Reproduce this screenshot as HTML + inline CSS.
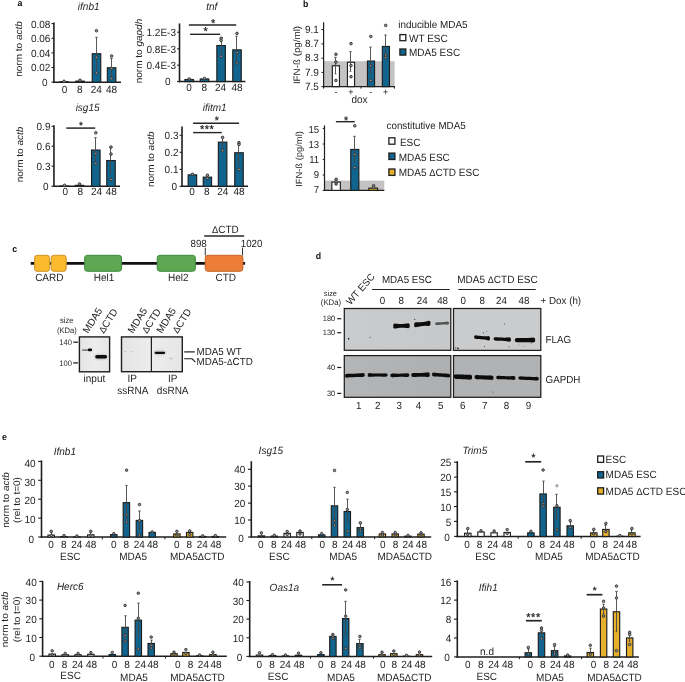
<!DOCTYPE html>
<html><head><meta charset="utf-8"><title>Figure</title>
<style>html,body{margin:0;padding:0;background:#fff}svg{display:block;text-rendering:geometricPrecision}text{font-family:"Liberation Sans",Arial,Helvetica,sans-serif}</style>
</head><body>
<svg width="685" height="682" viewBox="0 0 685 682">
<rect x="0" y="0" width="685" height="682" fill="#ffffff"/>
<text transform="translate(17.60 5.80) scale(0.955 1)" font-size="9.21" text-anchor="start" fill="#111" font-weight="bold" >a</text>
<line x1="53.90" y1="22.60" x2="53.90" y2="82.95" stroke="#1e1e1e" stroke-width="1.6" stroke-linecap="butt"/>
<line x1="53.10" y1="82.20" x2="121.00" y2="82.20" stroke="#1e1e1e" stroke-width="1.5" stroke-linecap="butt"/>
<line x1="51.50" y1="23.60" x2="53.90" y2="23.60" stroke="#1e1e1e" stroke-width="1.1" stroke-linecap="butt"/>
<text transform="translate(50.40 27.50) scale(0.955 1)" font-size="10.47" text-anchor="end" fill="#1e1e1e" >0.08</text>
<line x1="51.50" y1="38.30" x2="53.90" y2="38.30" stroke="#1e1e1e" stroke-width="1.1" stroke-linecap="butt"/>
<text transform="translate(50.40 42.20) scale(0.955 1)" font-size="10.47" text-anchor="end" fill="#1e1e1e" >0.06</text>
<line x1="51.50" y1="52.90" x2="53.90" y2="52.90" stroke="#1e1e1e" stroke-width="1.1" stroke-linecap="butt"/>
<text transform="translate(50.40 56.80) scale(0.955 1)" font-size="10.47" text-anchor="end" fill="#1e1e1e" >0.04</text>
<line x1="51.50" y1="67.50" x2="53.90" y2="67.50" stroke="#1e1e1e" stroke-width="1.1" stroke-linecap="butt"/>
<text transform="translate(50.40 71.40) scale(0.955 1)" font-size="10.47" text-anchor="end" fill="#1e1e1e" >0.02</text>
<line x1="51.50" y1="82.10" x2="53.90" y2="82.10" stroke="#1e1e1e" stroke-width="1.1" stroke-linecap="butt"/>
<text transform="translate(47.60 86.00) scale(0.955 1)" font-size="10.47" text-anchor="end" fill="#1e1e1e" >0</text>
<text transform="translate(88.70 9.50) scale(0.955 1)" font-size="10.47" text-anchor="middle" fill="#1e1e1e" font-style="italic" >ifnb1</text>
<text transform="translate(64.60 92.80) scale(0.955 1)" font-size="10.47" text-anchor="middle" fill="#1e1e1e" >0</text>
<text transform="translate(79.80 92.80) scale(0.955 1)" font-size="10.47" text-anchor="middle" fill="#1e1e1e" >8</text>
<text transform="translate(96.20 92.80) scale(0.955 1)" font-size="10.47" text-anchor="middle" fill="#1e1e1e" >24</text>
<text transform="translate(111.60 92.80) scale(0.955 1)" font-size="10.47" text-anchor="middle" fill="#1e1e1e" >48</text>
<text transform="translate(22.00 49.00) rotate(-90) scale(1 0.955)" font-size="10.00" text-anchor="middle" fill="#1e1e1e" >norm to <tspan font-style="italic">actb</tspan></text>
<rect x="59.75" y="81.75" width="8.50" height="0.55" fill="#10648e" stroke="#1e1e1e" stroke-width="1.15" rx="0" />
<rect x="75.75" y="81.15" width="8.50" height="1.15" fill="#10648e" stroke="#1e1e1e" stroke-width="1.15" rx="0" />
<rect x="92.25" y="53.75" width="8.50" height="28.55" fill="#10648e" stroke="#1e1e1e" stroke-width="1.15" rx="0" />
<rect x="107.35" y="67.75" width="8.50" height="14.55" fill="#10648e" stroke="#1e1e1e" stroke-width="1.15" rx="0" />
<line x1="96.50" y1="37.30" x2="96.50" y2="69.50" stroke="#454545" stroke-width="0.9" stroke-linecap="butt"/>
<line x1="95.20" y1="37.30" x2="97.80" y2="37.30" stroke="#454545" stroke-width="0.8" stroke-linecap="butt"/>
<line x1="95.46" y1="69.50" x2="97.54" y2="69.50" stroke="#454545" stroke-width="0.7" stroke-linecap="butt"/>
<line x1="111.50" y1="58.40" x2="111.50" y2="76.50" stroke="#454545" stroke-width="0.9" stroke-linecap="butt"/>
<line x1="110.20" y1="58.40" x2="112.80" y2="58.40" stroke="#454545" stroke-width="0.8" stroke-linecap="butt"/>
<line x1="110.46" y1="76.50" x2="112.54" y2="76.50" stroke="#454545" stroke-width="0.7" stroke-linecap="butt"/>
<circle cx="64.00" cy="81.30" r="1.3" fill="#999999" stroke="#2c2c2c" stroke-width="0.9"/>
<circle cx="80.00" cy="80.20" r="1.3" fill="#999999" stroke="#2c2c2c" stroke-width="0.9"/>
<circle cx="96.50" cy="30.70" r="1.3" fill="#999999" stroke="#2c2c2c" stroke-width="0.9"/>
<circle cx="96.50" cy="57.30" r="1.3" fill="#999999" stroke="#2c2c2c" stroke-width="0.9"/>
<circle cx="96.50" cy="72.90" r="1.3" fill="#999999" stroke="#2c2c2c" stroke-width="0.9"/>
<circle cx="111.60" cy="56.00" r="1.3" fill="#999999" stroke="#2c2c2c" stroke-width="0.9"/>
<circle cx="111.60" cy="68.50" r="1.3" fill="#999999" stroke="#2c2c2c" stroke-width="0.9"/>
<circle cx="111.60" cy="78.50" r="1.3" fill="#999999" stroke="#2c2c2c" stroke-width="0.9"/>
<line x1="179.50" y1="23.40" x2="179.50" y2="82.25" stroke="#1e1e1e" stroke-width="1.6" stroke-linecap="butt"/>
<line x1="178.70" y1="81.50" x2="245.40" y2="81.50" stroke="#1e1e1e" stroke-width="1.5" stroke-linecap="butt"/>
<line x1="177.10" y1="32.20" x2="179.50" y2="32.20" stroke="#1e1e1e" stroke-width="1.1" stroke-linecap="butt"/>
<text transform="translate(176.00 36.10) scale(0.955 1)" font-size="10.47" text-anchor="end" fill="#1e1e1e" >1.2E-3</text>
<line x1="177.10" y1="48.80" x2="179.50" y2="48.80" stroke="#1e1e1e" stroke-width="1.1" stroke-linecap="butt"/>
<text transform="translate(176.00 52.70) scale(0.955 1)" font-size="10.47" text-anchor="end" fill="#1e1e1e" >0.8E-3</text>
<line x1="177.10" y1="65.20" x2="179.50" y2="65.20" stroke="#1e1e1e" stroke-width="1.1" stroke-linecap="butt"/>
<text transform="translate(176.00 69.10) scale(0.955 1)" font-size="10.47" text-anchor="end" fill="#1e1e1e" >0.4E-3</text>
<line x1="177.10" y1="81.50" x2="179.50" y2="81.50" stroke="#1e1e1e" stroke-width="1.1" stroke-linecap="butt"/>
<text transform="translate(170.60 85.40) scale(0.955 1)" font-size="10.47" text-anchor="end" fill="#1e1e1e" >0</text>
<text transform="translate(211.80 9.50) scale(0.955 1)" font-size="10.47" text-anchor="middle" fill="#1e1e1e" font-style="italic" >tnf</text>
<text transform="translate(189.10 91.00) scale(0.955 1)" font-size="10.47" text-anchor="middle" fill="#1e1e1e" >0</text>
<text transform="translate(204.30 91.00) scale(0.955 1)" font-size="10.47" text-anchor="middle" fill="#1e1e1e" >8</text>
<text transform="translate(220.50 91.00) scale(0.955 1)" font-size="10.47" text-anchor="middle" fill="#1e1e1e" >24</text>
<text transform="translate(237.00 91.00) scale(0.955 1)" font-size="10.47" text-anchor="middle" fill="#1e1e1e" >48</text>
<text transform="translate(142.00 51.00) rotate(-90) scale(1 0.955)" font-size="10.00" text-anchor="middle" fill="#1e1e1e" >norm to <tspan font-style="italic">gapdh</tspan></text>
<rect x="184.95" y="79.55" width="8.50" height="2.05" fill="#10648e" stroke="#1e1e1e" stroke-width="1.15" rx="0" />
<rect x="200.25" y="78.95" width="8.50" height="2.65" fill="#10648e" stroke="#1e1e1e" stroke-width="1.15" rx="0" />
<rect x="216.85" y="45.55" width="8.50" height="36.05" fill="#10648e" stroke="#1e1e1e" stroke-width="1.15" rx="0" />
<rect x="232.75" y="49.85" width="8.50" height="31.75" fill="#10648e" stroke="#1e1e1e" stroke-width="1.15" rx="0" />
<line x1="221.50" y1="37.50" x2="221.50" y2="52.50" stroke="#454545" stroke-width="0.9" stroke-linecap="butt"/>
<line x1="220.20" y1="37.50" x2="222.80" y2="37.50" stroke="#454545" stroke-width="0.8" stroke-linecap="butt"/>
<line x1="220.46" y1="52.50" x2="222.54" y2="52.50" stroke="#454545" stroke-width="0.7" stroke-linecap="butt"/>
<line x1="236.50" y1="36.20" x2="236.50" y2="62.60" stroke="#454545" stroke-width="0.9" stroke-linecap="butt"/>
<line x1="235.20" y1="36.20" x2="237.80" y2="36.20" stroke="#454545" stroke-width="0.8" stroke-linecap="butt"/>
<line x1="235.46" y1="62.60" x2="237.54" y2="62.60" stroke="#454545" stroke-width="0.7" stroke-linecap="butt"/>
<circle cx="189.20" cy="79.00" r="1.3" fill="#999999" stroke="#2c2c2c" stroke-width="0.9"/>
<circle cx="204.50" cy="78.50" r="1.3" fill="#999999" stroke="#2c2c2c" stroke-width="0.9"/>
<circle cx="221.10" cy="38.30" r="1.3" fill="#999999" stroke="#2c2c2c" stroke-width="0.9"/>
<circle cx="221.10" cy="40.40" r="1.3" fill="#999999" stroke="#2c2c2c" stroke-width="0.9"/>
<circle cx="221.10" cy="56.30" r="1.3" fill="#999999" stroke="#2c2c2c" stroke-width="0.9"/>
<circle cx="237.00" cy="33.40" r="1.3" fill="#999999" stroke="#2c2c2c" stroke-width="0.9"/>
<circle cx="237.00" cy="52.80" r="1.3" fill="#999999" stroke="#2c2c2c" stroke-width="0.9"/>
<circle cx="237.00" cy="63.00" r="1.3" fill="#999999" stroke="#2c2c2c" stroke-width="0.9"/>
<line x1="188.90" y1="25.00" x2="236.20" y2="25.00" stroke="#262626" stroke-width="1.7" stroke-linecap="butt"/>
<text transform="translate(213.15 26.62) scale(0.955 1)" font-size="11.52" text-anchor="middle" fill="#1a1a1a" stroke="#1a1a1a" stroke-width="0.2">*</text>
<line x1="190.10" y1="34.30" x2="220.20" y2="34.30" stroke="#262626" stroke-width="1.4" stroke-linecap="butt"/>
<text transform="translate(205.75 35.02) scale(0.955 1)" font-size="11.52" text-anchor="middle" fill="#1a1a1a" stroke="#1a1a1a" stroke-width="0.2">*</text>
<line x1="53.95" y1="125.20" x2="53.95" y2="186.95" stroke="#1e1e1e" stroke-width="1.6" stroke-linecap="butt"/>
<line x1="53.15" y1="186.20" x2="120.00" y2="186.20" stroke="#1e1e1e" stroke-width="1.5" stroke-linecap="butt"/>
<line x1="51.55" y1="126.30" x2="53.95" y2="126.30" stroke="#1e1e1e" stroke-width="1.1" stroke-linecap="butt"/>
<text transform="translate(50.45 130.20) scale(0.955 1)" font-size="10.47" text-anchor="end" fill="#1e1e1e" >0.9</text>
<line x1="51.55" y1="146.20" x2="53.95" y2="146.20" stroke="#1e1e1e" stroke-width="1.1" stroke-linecap="butt"/>
<text transform="translate(50.45 150.10) scale(0.955 1)" font-size="10.47" text-anchor="end" fill="#1e1e1e" >0.6</text>
<line x1="51.55" y1="166.10" x2="53.95" y2="166.10" stroke="#1e1e1e" stroke-width="1.1" stroke-linecap="butt"/>
<text transform="translate(50.45 170.00) scale(0.955 1)" font-size="10.47" text-anchor="end" fill="#1e1e1e" >0.3</text>
<line x1="51.55" y1="186.30" x2="53.95" y2="186.30" stroke="#1e1e1e" stroke-width="1.1" stroke-linecap="butt"/>
<text transform="translate(48.45 190.20) scale(0.955 1)" font-size="10.47" text-anchor="end" fill="#1e1e1e" >0</text>
<text transform="translate(87.60 111.00) scale(0.955 1)" font-size="10.47" text-anchor="middle" fill="#1e1e1e" font-style="italic" >isg15</text>
<text transform="translate(65.30 195.40) scale(0.955 1)" font-size="10.47" text-anchor="middle" fill="#1e1e1e" >0</text>
<text transform="translate(80.40 195.40) scale(0.955 1)" font-size="10.47" text-anchor="middle" fill="#1e1e1e" >8</text>
<text transform="translate(96.60 195.40) scale(0.955 1)" font-size="10.47" text-anchor="middle" fill="#1e1e1e" >24</text>
<text transform="translate(111.30 195.40) scale(0.955 1)" font-size="10.47" text-anchor="middle" fill="#1e1e1e" >48</text>
<text transform="translate(22.80 154.50) rotate(-90) scale(1 0.955)" font-size="10.00" text-anchor="middle" fill="#1e1e1e" >norm to <tspan font-style="italic">actb</tspan></text>
<rect x="60.25" y="186.05" width="8.50" height="0.35" fill="#10648e" stroke="#1e1e1e" stroke-width="1.15" rx="0" />
<rect x="75.25" y="185.35" width="8.50" height="1.05" fill="#10648e" stroke="#1e1e1e" stroke-width="1.15" rx="0" />
<rect x="91.55" y="150.05" width="8.50" height="36.35" fill="#10648e" stroke="#1e1e1e" stroke-width="1.15" rx="0" />
<rect x="106.75" y="160.55" width="8.50" height="25.85" fill="#10648e" stroke="#1e1e1e" stroke-width="1.15" rx="0" />
<line x1="95.50" y1="137.70" x2="95.50" y2="161.30" stroke="#454545" stroke-width="0.9" stroke-linecap="butt"/>
<line x1="94.20" y1="137.70" x2="96.80" y2="137.70" stroke="#454545" stroke-width="0.8" stroke-linecap="butt"/>
<line x1="94.46" y1="161.30" x2="96.54" y2="161.30" stroke="#454545" stroke-width="0.7" stroke-linecap="butt"/>
<line x1="110.50" y1="147.70" x2="110.50" y2="173.40" stroke="#454545" stroke-width="0.9" stroke-linecap="butt"/>
<line x1="109.20" y1="147.70" x2="111.80" y2="147.70" stroke="#454545" stroke-width="0.8" stroke-linecap="butt"/>
<line x1="109.46" y1="173.40" x2="111.54" y2="173.40" stroke="#454545" stroke-width="0.7" stroke-linecap="butt"/>
<circle cx="64.50" cy="185.30" r="1.3" fill="#999999" stroke="#2c2c2c" stroke-width="0.9"/>
<circle cx="79.50" cy="184.00" r="1.3" fill="#999999" stroke="#2c2c2c" stroke-width="0.9"/>
<circle cx="95.80" cy="132.80" r="1.3" fill="#999999" stroke="#2c2c2c" stroke-width="0.9"/>
<circle cx="95.80" cy="153.60" r="1.3" fill="#999999" stroke="#2c2c2c" stroke-width="0.9"/>
<circle cx="95.80" cy="163.50" r="1.3" fill="#999999" stroke="#2c2c2c" stroke-width="0.9"/>
<circle cx="111.00" cy="147.10" r="1.3" fill="#999999" stroke="#2c2c2c" stroke-width="0.9"/>
<circle cx="111.00" cy="154.10" r="1.3" fill="#999999" stroke="#2c2c2c" stroke-width="0.9"/>
<circle cx="111.00" cy="179.50" r="1.3" fill="#999999" stroke="#2c2c2c" stroke-width="0.9"/>
<line x1="66.30" y1="128.10" x2="95.20" y2="128.10" stroke="#262626" stroke-width="1.5" stroke-linecap="butt"/>
<text transform="translate(81.05 129.00) scale(0.955 1)" font-size="10.47" text-anchor="middle" fill="#1a1a1a" stroke="#1a1a1a" stroke-width="0.2">*</text>
<line x1="182.00" y1="126.40" x2="182.00" y2="186.95" stroke="#1e1e1e" stroke-width="1.6" stroke-linecap="butt"/>
<line x1="181.20" y1="186.20" x2="248.00" y2="186.20" stroke="#1e1e1e" stroke-width="1.5" stroke-linecap="butt"/>
<line x1="179.60" y1="135.30" x2="182.00" y2="135.30" stroke="#1e1e1e" stroke-width="1.1" stroke-linecap="butt"/>
<text transform="translate(178.50 139.20) scale(0.955 1)" font-size="10.47" text-anchor="end" fill="#1e1e1e" >0.3</text>
<line x1="179.60" y1="152.30" x2="182.00" y2="152.30" stroke="#1e1e1e" stroke-width="1.1" stroke-linecap="butt"/>
<text transform="translate(178.50 156.20) scale(0.955 1)" font-size="10.47" text-anchor="end" fill="#1e1e1e" >0.2</text>
<line x1="179.60" y1="169.40" x2="182.00" y2="169.40" stroke="#1e1e1e" stroke-width="1.1" stroke-linecap="butt"/>
<text transform="translate(178.50 173.30) scale(0.955 1)" font-size="10.47" text-anchor="end" fill="#1e1e1e" >0.1</text>
<line x1="179.60" y1="186.40" x2="182.00" y2="186.40" stroke="#1e1e1e" stroke-width="1.1" stroke-linecap="butt"/>
<text transform="translate(177.00 190.30) scale(0.955 1)" font-size="10.47" text-anchor="end" fill="#1e1e1e" >0</text>
<text transform="translate(214.60 111.00) scale(0.955 1)" font-size="10.47" text-anchor="middle" fill="#1e1e1e" font-style="italic" >ifitm1</text>
<text transform="translate(192.10 195.40) scale(0.955 1)" font-size="10.47" text-anchor="middle" fill="#1e1e1e" >0</text>
<text transform="translate(206.80 195.40) scale(0.955 1)" font-size="10.47" text-anchor="middle" fill="#1e1e1e" >8</text>
<text transform="translate(222.80 195.40) scale(0.955 1)" font-size="10.47" text-anchor="middle" fill="#1e1e1e" >24</text>
<text transform="translate(239.00 195.40) scale(0.955 1)" font-size="10.47" text-anchor="middle" fill="#1e1e1e" >48</text>
<text transform="translate(154.00 159.30) rotate(-90) scale(1 0.955)" font-size="10.00" text-anchor="middle" fill="#1e1e1e" >norm to <tspan font-style="italic">actb</tspan></text>
<rect x="188.15" y="174.85" width="8.50" height="11.55" fill="#10648e" stroke="#1e1e1e" stroke-width="1.15" rx="0" />
<rect x="203.25" y="177.15" width="8.30" height="9.25" fill="#10648e" stroke="#1e1e1e" stroke-width="1.15" rx="0" />
<rect x="218.35" y="142.15" width="8.50" height="44.25" fill="#10648e" stroke="#1e1e1e" stroke-width="1.15" rx="0" />
<rect x="234.75" y="152.75" width="8.50" height="33.65" fill="#10648e" stroke="#1e1e1e" stroke-width="1.15" rx="0" />
<line x1="222.50" y1="137.40" x2="222.50" y2="147.90" stroke="#454545" stroke-width="0.9" stroke-linecap="butt"/>
<line x1="221.20" y1="137.40" x2="223.80" y2="137.40" stroke="#454545" stroke-width="0.8" stroke-linecap="butt"/>
<line x1="221.46" y1="147.90" x2="223.54" y2="147.90" stroke="#454545" stroke-width="0.7" stroke-linecap="butt"/>
<line x1="238.50" y1="143.20" x2="238.50" y2="163.50" stroke="#454545" stroke-width="0.9" stroke-linecap="butt"/>
<line x1="237.20" y1="143.20" x2="239.80" y2="143.20" stroke="#454545" stroke-width="0.8" stroke-linecap="butt"/>
<line x1="237.46" y1="163.50" x2="239.54" y2="163.50" stroke="#454545" stroke-width="0.7" stroke-linecap="butt"/>
<line x1="192.50" y1="173.60" x2="192.50" y2="175.80" stroke="#454545" stroke-width="0.9" stroke-linecap="butt"/>
<line x1="191.20" y1="173.60" x2="193.80" y2="173.60" stroke="#454545" stroke-width="0.8" stroke-linecap="butt"/>
<line x1="191.46" y1="175.80" x2="193.54" y2="175.80" stroke="#454545" stroke-width="0.7" stroke-linecap="butt"/>
<line x1="207.50" y1="175.40" x2="207.50" y2="178.80" stroke="#454545" stroke-width="0.9" stroke-linecap="butt"/>
<line x1="206.20" y1="175.40" x2="208.80" y2="175.40" stroke="#454545" stroke-width="0.8" stroke-linecap="butt"/>
<line x1="206.46" y1="178.80" x2="208.54" y2="178.80" stroke="#454545" stroke-width="0.7" stroke-linecap="butt"/>
<circle cx="192.40" cy="174.30" r="1.3" fill="#999999" stroke="#2c2c2c" stroke-width="0.9"/>
<circle cx="207.40" cy="175.20" r="1.3" fill="#999999" stroke="#2c2c2c" stroke-width="0.9"/>
<circle cx="207.40" cy="178.30" r="1.3" fill="#999999" stroke="#2c2c2c" stroke-width="0.9"/>
<circle cx="222.60" cy="137.40" r="1.3" fill="#999999" stroke="#2c2c2c" stroke-width="0.9"/>
<circle cx="222.60" cy="150.70" r="1.3" fill="#999999" stroke="#2c2c2c" stroke-width="0.9"/>
<circle cx="239.00" cy="142.70" r="1.3" fill="#999999" stroke="#2c2c2c" stroke-width="0.9"/>
<circle cx="239.00" cy="144.40" r="1.3" fill="#999999" stroke="#2c2c2c" stroke-width="0.9"/>
<circle cx="239.00" cy="169.40" r="1.3" fill="#999999" stroke="#2c2c2c" stroke-width="0.9"/>
<line x1="193.10" y1="123.20" x2="239.10" y2="123.20" stroke="#262626" stroke-width="1.4" stroke-linecap="butt"/>
<text transform="translate(216.70 123.96) scale(0.955 1)" font-size="10.99" text-anchor="middle" fill="#1a1a1a" stroke="#1a1a1a" stroke-width="0.2">*</text>
<line x1="193.10" y1="132.60" x2="221.80" y2="132.60" stroke="#262626" stroke-width="1.4" stroke-linecap="butt"/>
<text transform="translate(207.05 133.42) scale(0.955 1)" font-size="11.52" text-anchor="middle" fill="#1a1a1a" stroke="#1a1a1a" stroke-width="0.2" letter-spacing="0.5">***</text>
<text transform="translate(302.90 6.70) scale(0.955 1)" font-size="9.21" text-anchor="start" fill="#111" font-weight="bold" >b</text>
<rect x="323.60" y="61.20" width="71.00" height="25.40" fill="#c4c2c3" stroke="none" stroke-width="0" rx="0" />
<line x1="323.60" y1="22.30" x2="323.60" y2="87.20" stroke="#1e1e1e" stroke-width="1.2" stroke-linecap="butt"/>
<line x1="323.00" y1="86.60" x2="394.90" y2="86.60" stroke="#1e1e1e" stroke-width="1.2" stroke-linecap="butt"/>
<line x1="323.60" y1="86.60" x2="323.60" y2="88.60" stroke="#1e1e1e" stroke-width="1.0" stroke-linecap="butt"/>
<line x1="361.00" y1="86.60" x2="361.00" y2="88.60" stroke="#1e1e1e" stroke-width="1.0" stroke-linecap="butt"/>
<line x1="394.40" y1="86.60" x2="394.40" y2="88.60" stroke="#1e1e1e" stroke-width="1.0" stroke-linecap="butt"/>
<line x1="321.40" y1="29.60" x2="323.60" y2="29.60" stroke="#1e1e1e" stroke-width="1.0" stroke-linecap="butt"/>
<text transform="translate(318.80 32.70) scale(0.955 1)" font-size="10.47" text-anchor="end" fill="#1e1e1e" >9.1</text>
<line x1="321.40" y1="43.90" x2="323.60" y2="43.90" stroke="#1e1e1e" stroke-width="1.0" stroke-linecap="butt"/>
<text transform="translate(318.80 47.00) scale(0.955 1)" font-size="10.47" text-anchor="end" fill="#1e1e1e" >8.7</text>
<line x1="321.40" y1="58.20" x2="323.60" y2="58.20" stroke="#1e1e1e" stroke-width="1.0" stroke-linecap="butt"/>
<text transform="translate(318.80 61.30) scale(0.955 1)" font-size="10.47" text-anchor="end" fill="#1e1e1e" >8.3</text>
<line x1="321.40" y1="72.40" x2="323.60" y2="72.40" stroke="#1e1e1e" stroke-width="1.0" stroke-linecap="butt"/>
<text transform="translate(318.80 75.50) scale(0.955 1)" font-size="10.47" text-anchor="end" fill="#1e1e1e" >7.9</text>
<line x1="321.40" y1="86.60" x2="323.60" y2="86.60" stroke="#1e1e1e" stroke-width="1.0" stroke-linecap="butt"/>
<text transform="translate(318.80 89.70) scale(0.955 1)" font-size="10.47" text-anchor="end" fill="#1e1e1e" >7.5</text>
<rect x="332.35" y="65.75" width="7.10" height="20.85" fill="#ffffff" stroke="#1e1e1e" stroke-width="1.15" rx="0" />
<rect x="347.45" y="62.25" width="7.10" height="24.35" fill="#ffffff" stroke="#1e1e1e" stroke-width="1.15" rx="0" />
<rect x="367.45" y="61.05" width="7.10" height="25.55" fill="#10648e" stroke="#1e1e1e" stroke-width="1.15" rx="0" />
<rect x="382.35" y="46.45" width="7.10" height="40.15" fill="#10648e" stroke="#1e1e1e" stroke-width="1.15" rx="0" />
<line x1="335.50" y1="57.30" x2="335.50" y2="73.90" stroke="#454545" stroke-width="0.9" stroke-linecap="butt"/>
<line x1="334.20" y1="57.30" x2="336.80" y2="57.30" stroke="#454545" stroke-width="0.8" stroke-linecap="butt"/>
<line x1="334.46" y1="73.90" x2="336.54" y2="73.90" stroke="#454545" stroke-width="0.7" stroke-linecap="butt"/>
<line x1="350.50" y1="51.70" x2="350.50" y2="71.30" stroke="#454545" stroke-width="0.9" stroke-linecap="butt"/>
<line x1="349.20" y1="51.70" x2="351.80" y2="51.70" stroke="#454545" stroke-width="0.8" stroke-linecap="butt"/>
<line x1="349.46" y1="71.30" x2="351.54" y2="71.30" stroke="#454545" stroke-width="0.7" stroke-linecap="butt"/>
<line x1="370.50" y1="47.10" x2="370.50" y2="73.90" stroke="#454545" stroke-width="0.9" stroke-linecap="butt"/>
<line x1="369.20" y1="47.10" x2="371.80" y2="47.10" stroke="#454545" stroke-width="0.8" stroke-linecap="butt"/>
<line x1="369.46" y1="73.90" x2="371.54" y2="73.90" stroke="#454545" stroke-width="0.7" stroke-linecap="butt"/>
<line x1="385.50" y1="35.00" x2="385.50" y2="56.40" stroke="#454545" stroke-width="0.9" stroke-linecap="butt"/>
<line x1="384.20" y1="35.00" x2="386.80" y2="35.00" stroke="#454545" stroke-width="0.8" stroke-linecap="butt"/>
<line x1="384.46" y1="56.40" x2="386.54" y2="56.40" stroke="#454545" stroke-width="0.7" stroke-linecap="butt"/>
<circle cx="335.90" cy="54.30" r="1.3" fill="#999999" stroke="#2c2c2c" stroke-width="0.9"/>
<circle cx="335.90" cy="62.00" r="1.3" fill="#999999" stroke="#2c2c2c" stroke-width="0.9"/>
<circle cx="335.90" cy="80.40" r="1.3" fill="#999999" stroke="#2c2c2c" stroke-width="0.9"/>
<circle cx="351.00" cy="43.60" r="1.3" fill="#999999" stroke="#2c2c2c" stroke-width="0.9"/>
<circle cx="351.00" cy="65.50" r="1.3" fill="#999999" stroke="#2c2c2c" stroke-width="0.9"/>
<circle cx="351.00" cy="76.70" r="1.3" fill="#999999" stroke="#2c2c2c" stroke-width="0.9"/>
<circle cx="370.80" cy="36.50" r="1.3" fill="#999999" stroke="#2c2c2c" stroke-width="0.9"/>
<circle cx="370.80" cy="65.70" r="1.3" fill="#999999" stroke="#2c2c2c" stroke-width="0.9"/>
<circle cx="370.80" cy="80.40" r="1.3" fill="#999999" stroke="#2c2c2c" stroke-width="0.9"/>
<circle cx="385.70" cy="25.40" r="1.3" fill="#999999" stroke="#2c2c2c" stroke-width="0.9"/>
<circle cx="385.70" cy="55.00" r="1.3" fill="#999999" stroke="#2c2c2c" stroke-width="0.9"/>
<circle cx="385.70" cy="57.70" r="1.3" fill="#999999" stroke="#2c2c2c" stroke-width="0.9"/>
<text transform="translate(335.90 94.60) scale(0.955 1)" font-size="9.42" text-anchor="middle" fill="#1e1e1e" >-</text>
<text transform="translate(351.00 94.60) scale(0.955 1)" font-size="9.42" text-anchor="middle" fill="#1e1e1e" >+</text>
<text transform="translate(370.80 94.60) scale(0.955 1)" font-size="9.42" text-anchor="middle" fill="#1e1e1e" >-</text>
<text transform="translate(385.70 94.60) scale(0.955 1)" font-size="9.42" text-anchor="middle" fill="#1e1e1e" >+</text>
<text transform="translate(359.50 103.30) scale(0.955 1)" font-size="10.47" text-anchor="middle" fill="#1e1e1e" >dox</text>
<text transform="translate(299.60 55.00) rotate(-90) scale(1 0.955)" font-size="9.80" text-anchor="middle" fill="#1e1e1e" >IFN-ß (pg/ml)</text>
<text transform="translate(398.20 27.60) scale(0.955 1)" font-size="10.37" text-anchor="start" fill="#1e1e1e" >inducible MDA5</text>
<rect x="399.90" y="34.60" width="5.90" height="6.10" fill="#ffffff" stroke="#1e1e1e" stroke-width="1.3" rx="0" />
<text transform="translate(409.00 41.80) scale(0.955 1)" font-size="10.47" text-anchor="start" fill="#1e1e1e" >WT ESC</text>
<rect x="399.90" y="49.00" width="5.90" height="6.10" fill="#10648e" stroke="#1e1e1e" stroke-width="1.3" rx="0" />
<text transform="translate(409.00 56.20) scale(0.955 1)" font-size="10.47" text-anchor="start" fill="#1e1e1e" >MDA5 ESC</text>
<rect x="324.50" y="180.60" width="59.80" height="9.80" fill="#c4c2c3" stroke="none" stroke-width="0" rx="0" />
<line x1="324.50" y1="125.40" x2="324.50" y2="191.00" stroke="#1e1e1e" stroke-width="1.2" stroke-linecap="butt"/>
<line x1="323.90" y1="190.40" x2="384.30" y2="190.40" stroke="#1e1e1e" stroke-width="1.2" stroke-linecap="butt"/>
<line x1="322.70" y1="128.40" x2="324.50" y2="128.40" stroke="#1e1e1e" stroke-width="1.0" stroke-linecap="butt"/>
<text transform="translate(319.20 132.55) scale(0.955 1)" font-size="10.05" text-anchor="end" fill="#1e1e1e" >15</text>
<line x1="322.70" y1="144.00" x2="324.50" y2="144.00" stroke="#1e1e1e" stroke-width="1.0" stroke-linecap="butt"/>
<text transform="translate(319.20 147.65) scale(0.955 1)" font-size="10.05" text-anchor="end" fill="#1e1e1e" >13</text>
<line x1="322.70" y1="159.40" x2="324.50" y2="159.40" stroke="#1e1e1e" stroke-width="1.0" stroke-linecap="butt"/>
<text transform="translate(319.20 162.65) scale(0.955 1)" font-size="10.05" text-anchor="end" fill="#1e1e1e" >11</text>
<line x1="322.70" y1="175.00" x2="324.50" y2="175.00" stroke="#1e1e1e" stroke-width="1.0" stroke-linecap="butt"/>
<text transform="translate(319.20 177.75) scale(0.955 1)" font-size="10.05" text-anchor="end" fill="#1e1e1e" >9</text>
<line x1="322.70" y1="190.40" x2="324.50" y2="190.40" stroke="#1e1e1e" stroke-width="1.0" stroke-linecap="butt"/>
<text transform="translate(319.20 192.75) scale(0.955 1)" font-size="10.05" text-anchor="end" fill="#1e1e1e" >7</text>
<rect x="331.85" y="182.05" width="8.50" height="8.35" fill="#ffffff" stroke="#1e1e1e" stroke-width="1.15" rx="0" />
<rect x="350.75" y="149.45" width="8.10" height="40.95" fill="#10648e" stroke="#1e1e1e" stroke-width="1.15" rx="0" />
<rect x="368.85" y="188.15" width="8.70" height="2.25" fill="#e6b02a" stroke="#1e1e1e" stroke-width="1.15" rx="0" />
<line x1="354.50" y1="136.30" x2="354.50" y2="162.00" stroke="#454545" stroke-width="0.9" stroke-linecap="butt"/>
<line x1="353.20" y1="136.30" x2="355.80" y2="136.30" stroke="#454545" stroke-width="0.8" stroke-linecap="butt"/>
<line x1="353.46" y1="162.00" x2="355.54" y2="162.00" stroke="#454545" stroke-width="0.7" stroke-linecap="butt"/>
<line x1="336.50" y1="179.30" x2="336.50" y2="183.50" stroke="#454545" stroke-width="0.9" stroke-linecap="butt"/>
<line x1="335.20" y1="179.30" x2="337.80" y2="179.30" stroke="#454545" stroke-width="0.8" stroke-linecap="butt"/>
<line x1="335.46" y1="183.50" x2="337.54" y2="183.50" stroke="#454545" stroke-width="0.7" stroke-linecap="butt"/>
<line x1="373.50" y1="186.20" x2="373.50" y2="188.60" stroke="#454545" stroke-width="0.9" stroke-linecap="butt"/>
<line x1="372.20" y1="186.20" x2="374.80" y2="186.20" stroke="#454545" stroke-width="0.8" stroke-linecap="butt"/>
<line x1="372.46" y1="188.60" x2="374.54" y2="188.60" stroke="#454545" stroke-width="0.7" stroke-linecap="butt"/>
<circle cx="354.80" cy="125.80" r="1.3" fill="#999999" stroke="#2c2c2c" stroke-width="0.9"/>
<circle cx="354.80" cy="154.50" r="1.3" fill="#999999" stroke="#2c2c2c" stroke-width="0.9"/>
<circle cx="354.80" cy="167.50" r="1.3" fill="#999999" stroke="#2c2c2c" stroke-width="0.9"/>
<circle cx="336.10" cy="179.30" r="1.3" fill="#999999" stroke="#2c2c2c" stroke-width="0.9"/>
<circle cx="336.10" cy="181.50" r="1.3" fill="#999999" stroke="#2c2c2c" stroke-width="0.9"/>
<circle cx="336.10" cy="184.00" r="1.3" fill="#999999" stroke="#2c2c2c" stroke-width="0.9"/>
<circle cx="373.60" cy="185.70" r="1.3" fill="#999999" stroke="#2c2c2c" stroke-width="0.9"/>
<circle cx="373.60" cy="187.60" r="1.3" fill="#999999" stroke="#2c2c2c" stroke-width="0.9"/>
<line x1="335.90" y1="121.70" x2="354.80" y2="121.70" stroke="#262626" stroke-width="1.4" stroke-linecap="butt"/>
<text transform="translate(345.95 123.76) scale(0.955 1)" font-size="10.99" text-anchor="middle" fill="#1a1a1a" stroke="#1a1a1a" stroke-width="0.2">*</text>
<text transform="translate(302.00 159.00) rotate(-90) scale(1 0.955)" font-size="9.40" text-anchor="middle" fill="#1e1e1e" >IFN-ß (pg/ml)</text>
<text transform="translate(386.50 128.70) scale(0.955 1)" font-size="10.31" text-anchor="start" fill="#1e1e1e" >constitutive MDA5</text>
<rect x="388.90" y="137.80" width="6.00" height="6.40" fill="#ffffff" stroke="#1e1e1e" stroke-width="1.3" rx="0" />
<text transform="translate(399.90 145.50) scale(0.955 1)" font-size="10.47" text-anchor="start" fill="#1e1e1e" >ESC</text>
<rect x="388.90" y="153.10" width="6.00" height="6.40" fill="#10648e" stroke="#1e1e1e" stroke-width="1.3" rx="0" />
<text transform="translate(398.70 160.90) scale(0.955 1)" font-size="10.47" text-anchor="start" fill="#1e1e1e" >MDA5 ESC</text>
<rect x="388.90" y="169.00" width="6.00" height="6.40" fill="#e6b02a" stroke="#1e1e1e" stroke-width="1.3" rx="0" />
<text transform="translate(398.70 176.30) scale(0.955 1)" font-size="10.47" text-anchor="start" fill="#1e1e1e" >MDA5 <tspan font-size="9.84">Δ</tspan>CTD ESC</text>
<text transform="translate(12.30 252.00) scale(0.955 1)" font-size="9.21" text-anchor="start" fill="#111" font-weight="bold" >c</text>
<line x1="30.70" y1="263.40" x2="245.10" y2="263.40" stroke="#111" stroke-width="2.6" stroke-linecap="butt"/>
<rect x="34.60" y="255.30" width="15.00" height="16.00" fill="#fbb92d" stroke="#cf9428" stroke-width="1.0" rx="2.6" />
<rect x="51.20" y="255.30" width="15.00" height="16.00" fill="#fbb92d" stroke="#cf9428" stroke-width="1.0" rx="2.6" />
<rect x="84.60" y="255.30" width="37.00" height="16.00" fill="#5fa853" stroke="#3f8a3f" stroke-width="1.0" rx="2.8" />
<rect x="157.20" y="255.30" width="38.20" height="16.00" fill="#5fa853" stroke="#3f8a3f" stroke-width="1.0" rx="2.8" />
<rect x="205.20" y="255.30" width="37.70" height="16.00" fill="#eb7d38" stroke="#c96528" stroke-width="1.0" rx="2.8" />
<text transform="translate(49.30 280.70) scale(0.955 1)" font-size="10.47" text-anchor="middle" fill="#1e1e1e" >CARD</text>
<text transform="translate(104.00 280.70) scale(0.955 1)" font-size="10.47" text-anchor="middle" fill="#1e1e1e" >Hel1</text>
<text transform="translate(178.30 280.70) scale(0.955 1)" font-size="10.47" text-anchor="middle" fill="#1e1e1e" >Hel2</text>
<text transform="translate(225.80 280.70) scale(0.955 1)" font-size="10.47" text-anchor="middle" fill="#1e1e1e" >CTD</text>
<line x1="205.30" y1="247.80" x2="205.30" y2="255.50" stroke="#1e1e1e" stroke-width="0.9" stroke-linecap="butt"/>
<line x1="242.50" y1="247.80" x2="242.50" y2="255.50" stroke="#1e1e1e" stroke-width="0.9" stroke-linecap="butt"/>
<line x1="204.20" y1="236.00" x2="244.20" y2="236.00" stroke="#2a2a2a" stroke-width="1.5" stroke-linecap="butt"/>
<text transform="translate(225.40 232.60) scale(0.955 1)" font-size="10.47" text-anchor="middle" fill="#1e1e1e" ><tspan font-size="9.84">Δ</tspan>CTD</text>
<text transform="translate(206.80 247.30) scale(0.955 1)" font-size="10.26" text-anchor="end" fill="#1e1e1e" >898</text>
<text transform="translate(240.70 247.30) scale(0.955 1)" font-size="10.26" text-anchor="start" fill="#1e1e1e" >1020</text>
<defs><filter id="bl" x="-20%" y="-80%" width="140%" height="260%"><feGaussianBlur stdDeviation="0.7"/></filter><filter id="bl2" x="-20%" y="-80%" width="140%" height="260%"><feGaussianBlur stdDeviation="0.9"/></filter><linearGradient id="gc" x1="0" y1="0" x2="1" y2="0"><stop offset="0" stop-color="#e4e4e4"/><stop offset="0.5" stop-color="#ededed"/><stop offset="1" stop-color="#e6e6e6"/></linearGradient></defs>
<rect x="79.40" y="336.90" width="30.20" height="34.90" fill="url(#gc)" stroke="#1e1e1e" stroke-width="1.4" rx="0" />
<rect x="121.50" y="336.90" width="60.80" height="34.80" fill="url(#gc)" stroke="#1e1e1e" stroke-width="1.4" rx="0" />
<line x1="151.40" y1="336.90" x2="151.40" y2="371.70" stroke="#1e1e1e" stroke-width="1.2" stroke-linecap="butt"/>
<rect x="81.90" y="349.20" width="7.60" height="1.80" rx="0.90" fill="#333" opacity="0.55" filter="url(#bl)"/>
<rect x="87.80" y="348.60" width="4.40" height="2.60" rx="1.30" fill="#0c0c0c" opacity="1" filter="url(#bl)"/>
<rect x="94.60" y="354.20" width="12.80" height="5.20" rx="2.60" fill="#777" opacity="0.35" filter="url(#bl2)"/>
<rect x="95.20" y="355.00" width="11.90" height="3.60" rx="1.80" fill="#0c0c0c" opacity="1" filter="url(#bl)"/>
<rect x="154.00" y="350.60" width="11.60" height="4.40" rx="2.20" fill="#777" opacity="0.3" filter="url(#bl2)"/>
<rect x="154.60" y="351.65" width="10.60" height="2.30" rx="1.15" fill="#0c0c0c" opacity="1" filter="url(#bl)"/>
<rect x="124.00" y="350.90" width="2.50" height="1.20" rx="0.60" fill="#888" opacity="0.35" filter="url(#bl)"/>
<rect x="131.00" y="350.90" width="2.50" height="1.20" rx="0.60" fill="#888" opacity="0.3" filter="url(#bl)"/>
<rect x="169.00" y="357.75" width="4.00" height="1.50" rx="0.75" fill="#888" opacity="0.35" filter="url(#bl)"/>
<text transform="translate(71.90 345.00) scale(0.955 1)" font-size="7.96" text-anchor="end" fill="#1e1e1e" >140</text>
<line x1="73.30" y1="342.20" x2="77.90" y2="342.20" stroke="#1e1e1e" stroke-width="1.3" stroke-linecap="butt"/>
<text transform="translate(71.90 365.60) scale(0.955 1)" font-size="7.96" text-anchor="end" fill="#1e1e1e" >100</text>
<line x1="73.30" y1="362.90" x2="77.90" y2="362.90" stroke="#1e1e1e" stroke-width="1.3" stroke-linecap="butt"/>
<text transform="translate(66.80 323.30) scale(0.955 1)" font-size="7.96" text-anchor="middle" fill="#1e1e1e" >size</text>
<text transform="translate(66.80 332.50) scale(0.955 1)" font-size="7.96" text-anchor="middle" fill="#1e1e1e" >(KDa)</text>
<text transform="translate(88.00 334.00) rotate(-58)" font-size="10.00" text-anchor="start" fill="#1e1e1e" >MDA5</text>
<text transform="translate(103.80 334.00) rotate(-58)" font-size="10.00" text-anchor="start" fill="#1e1e1e" ><tspan font-size="9.4">Δ</tspan>CTD</text>
<text transform="translate(133.00 334.00) rotate(-58)" font-size="10.00" text-anchor="start" fill="#1e1e1e" >MDA5</text>
<text transform="translate(147.00 334.00) rotate(-58)" font-size="10.00" text-anchor="start" fill="#1e1e1e" ><tspan font-size="9.4">Δ</tspan>CTD</text>
<text transform="translate(161.80 334.00) rotate(-58)" font-size="10.00" text-anchor="start" fill="#1e1e1e" >MDA5</text>
<text transform="translate(177.60 334.00) rotate(-58)" font-size="10.00" text-anchor="start" fill="#1e1e1e" ><tspan font-size="9.4">Δ</tspan>CTD</text>
<text transform="translate(94.40 381.80) scale(0.955 1)" font-size="10.47" text-anchor="middle" fill="#1e1e1e" >input</text>
<text transform="translate(132.20 381.80) scale(0.955 1)" font-size="10.47" text-anchor="middle" fill="#1e1e1e" >IP</text>
<text transform="translate(132.80 394.00) scale(0.955 1)" font-size="10.47" text-anchor="middle" fill="#1e1e1e" >ssRNA</text>
<text transform="translate(172.70 381.80) scale(0.955 1)" font-size="10.47" text-anchor="middle" fill="#1e1e1e" >IP</text>
<text transform="translate(172.70 394.00) scale(0.955 1)" font-size="10.47" text-anchor="middle" fill="#1e1e1e" >dsRNA</text>
<line x1="184.20" y1="351.90" x2="194.80" y2="351.90" stroke="#1e1e1e" stroke-width="1.2" stroke-linecap="butt"/>
<text transform="translate(196.60 354.80) scale(0.955 1)" font-size="10.26" text-anchor="start" fill="#1e1e1e" >MDA5 WT</text>
<polyline points="184.2,358.8 192.1,358.8 195.4,362.2" fill="none" stroke="#1e1e1e" stroke-width="1.1"/>
<text transform="translate(196.60 365.20) scale(0.955 1)" font-size="10.26" text-anchor="start" fill="#1e1e1e" >MDA5-<tspan font-size="8.69">Δ</tspan>CTD</text>
<text transform="translate(315.80 258.90) scale(0.955 1)" font-size="9.21" text-anchor="start" fill="#111" font-weight="bold" >d</text>
<rect x="344.30" y="308.50" width="106.50" height="41.80" fill="url(#gF)" stroke="#1e1e1e" stroke-width="1.25" rx="0" />
<rect x="453.50" y="308.50" width="87.30" height="41.90" fill="#cacbcd" stroke="#1e1e1e" stroke-width="1.25" rx="0" />
<rect x="344.30" y="355.60" width="106.50" height="41.70" fill="url(#gG)" stroke="#1e1e1e" stroke-width="1.25" rx="0" />
<rect x="453.50" y="355.60" width="87.30" height="41.70" fill="#b1b2b4" stroke="#1e1e1e" stroke-width="1.25" rx="0" />
<defs><filter id="bl3" x="-10%" y="-60%" width="120%" height="220%"><feGaussianBlur stdDeviation="0.6"/></filter><linearGradient id="gF" x1="0" y1="0" x2="1" y2="0"><stop offset="0" stop-color="#cacbcd"/><stop offset="1" stop-color="#c7c8ca"/></linearGradient><linearGradient id="gG" x1="0" y1="0" x2="1" y2="0"><stop offset="0" stop-color="#b4b5b7"/><stop offset="1" stop-color="#aeafb1"/></linearGradient></defs>
<path d="M393.30,324.50 L394.67,323.48 L396.03,323.70 L397.40,323.86 L398.77,323.96 L400.13,324.01 L401.50,324.00 L402.87,323.94 L404.23,323.84 L405.60,323.69 L406.97,323.50 L408.33,323.27 L409.70,324.21 L409.70,327.19 L408.33,328.20 L406.97,328.04 L405.60,327.91 L404.23,327.83 L402.87,327.79 L401.50,327.80 L400.13,327.86 L398.77,327.97 L397.40,328.14 L396.03,328.36 L394.67,328.65 L393.30,327.70Z" fill="#0b0b0b" opacity="1" filter="url(#bl3)"/>
<path d="M414.20,323.36 L415.55,322.20 L416.90,322.25 L418.25,322.27 L419.60,322.24 L420.95,322.17 L422.30,322.05 L423.65,321.88 L425.00,321.67 L426.35,321.41 L427.70,321.09 L429.05,320.72 L430.40,321.60 L430.40,324.80 L429.05,325.96 L427.70,325.88 L426.35,325.84 L425.00,325.86 L423.65,325.93 L422.30,326.05 L420.95,326.22 L419.60,326.43 L418.25,326.68 L416.90,326.98 L415.55,327.32 L414.20,326.44Z" fill="#0b0b0b" opacity="1" filter="url(#bl3)"/>
<path d="M435.20,323.03 L436.34,322.40 L437.48,322.34 L438.62,322.32 L439.77,322.29 L440.91,322.26 L442.05,322.20 L443.19,322.12 L444.33,322.01 L445.47,321.86 L446.62,321.66 L447.76,321.45 L448.90,321.95 L448.90,324.05 L447.76,324.69 L446.62,324.61 L445.47,324.54 L444.33,324.53 L443.19,324.55 L442.05,324.60 L440.91,324.68 L439.77,324.77 L438.62,324.88 L437.48,324.99 L436.34,325.07 L435.20,324.57Z" fill="#222" opacity="0.7" filter="url(#bl)"/>
<path d="M474.20,336.01 L475.51,335.33 L476.82,335.48 L478.12,335.64 L479.43,335.81 L480.74,335.97 L482.05,336.10 L483.36,336.20 L484.67,336.24 L485.97,336.23 L487.28,336.14 L488.59,335.97 L489.90,336.91 L489.90,339.88 L488.59,340.60 L487.28,340.19 L485.97,339.87 L484.67,339.62 L483.36,339.44 L482.05,339.30 L480.74,339.20 L479.43,339.12 L478.12,339.06 L476.82,338.99 L475.51,338.91 L474.20,337.99Z" fill="#0b0b0b" opacity="1" filter="url(#bl3)"/>
<path d="M493.70,337.87 L495.13,337.15 L496.57,337.22 L498.00,337.32 L499.43,337.42 L500.87,337.52 L502.30,337.60 L503.73,337.65 L505.17,337.66 L506.60,337.61 L508.03,337.49 L509.47,337.29 L510.90,338.17 L510.90,341.03 L509.47,341.78 L508.03,341.44 L506.60,341.19 L505.17,341.01 L503.73,340.88 L502.30,340.80 L500.87,340.75 L499.43,340.71 L498.00,340.68 L496.57,340.64 L495.13,340.59 L493.70,339.74Z" fill="#0b0b0b" opacity="1" filter="url(#bl3)"/>
<path d="M514.90,339.05 L516.58,338.04 L518.27,338.01 L519.95,338.01 L521.63,338.01 L523.32,338.01 L525.00,338.00 L526.68,337.97 L528.37,337.91 L530.05,337.82 L531.73,337.67 L533.42,337.47 L535.10,338.46 L535.10,341.54 L533.42,342.56 L531.73,342.39 L530.05,342.28 L528.37,342.22 L526.68,342.19 L525.00,342.20 L523.32,342.22 L521.63,342.26 L519.95,342.29 L518.27,342.32 L516.58,342.32 L514.90,341.35Z" fill="#0b0b0b" opacity="1" filter="url(#bl3)"/>
<path d="M345.10,374.65 L346.73,373.75 L348.37,373.78 L350.00,373.78 L351.63,373.76 L353.27,373.72 L354.90,373.65 L356.53,373.57 L358.17,373.46 L359.80,373.34 L361.43,373.21 L363.07,373.06 L364.70,373.80 L364.70,376.00 L363.07,376.89 L361.43,376.89 L359.80,376.91 L358.17,376.94 L356.53,376.98 L354.90,377.05 L353.27,377.13 L351.63,377.24 L350.00,377.37 L348.37,377.52 L346.73,377.70 L345.10,376.95Z" fill="#0b0b0b" opacity="1" filter="url(#bl3)"/>
<path d="M367.80,373.85 L369.43,373.11 L371.07,373.27 L372.70,373.39 L374.33,373.48 L375.97,373.53 L377.60,373.55 L379.23,373.55 L380.87,373.52 L382.50,373.48 L384.13,373.43 L385.77,373.37 L387.40,374.11 L387.40,376.09 L385.77,376.82 L384.13,376.74 L382.50,376.67 L380.87,376.61 L379.23,376.57 L377.60,376.55 L375.97,376.55 L374.33,376.59 L372.70,376.66 L371.07,376.76 L369.43,376.91 L367.80,376.15Z" fill="#0b0b0b" opacity="1" filter="url(#bl3)"/>
<path d="M390.50,374.25 L392.06,373.43 L393.62,373.54 L395.18,373.61 L396.73,373.65 L398.29,373.66 L399.85,373.65 L401.41,373.61 L402.97,373.55 L404.52,373.47 L406.08,373.36 L407.64,373.24 L409.20,374.00 L409.20,376.20 L407.64,377.01 L406.08,376.94 L404.52,376.88 L402.97,376.85 L401.41,376.84 L399.85,376.85 L398.29,376.89 L396.73,376.95 L395.18,377.04 L393.62,377.16 L392.06,377.32 L390.50,376.55Z" fill="#0b0b0b" opacity="1" filter="url(#bl3)"/>
<path d="M411.40,373.85 L412.92,372.91 L414.45,372.92 L415.97,372.94 L417.50,372.96 L419.02,372.96 L420.55,372.95 L422.07,372.91 L423.60,372.84 L425.12,372.73 L426.65,372.58 L428.18,372.37 L429.70,373.27 L429.70,376.13 L428.18,377.08 L426.65,376.92 L425.12,376.82 L423.60,376.76 L422.07,376.74 L420.55,376.75 L419.02,376.79 L417.50,376.84 L415.97,376.91 L414.45,376.98 L412.92,377.04 L411.40,376.15Z" fill="#0b0b0b" opacity="1" filter="url(#bl3)"/>
<path d="M432.10,373.19 L433.59,372.47 L435.08,372.71 L436.58,372.91 L438.07,373.09 L439.56,373.23 L441.05,373.35 L442.54,373.45 L444.03,373.53 L445.52,373.59 L447.02,373.64 L448.51,373.67 L450.00,374.60 L450.00,376.80 L448.51,377.51 L447.02,377.33 L445.52,377.16 L444.03,377.01 L442.54,376.87 L441.05,376.75 L439.56,376.65 L438.07,376.58 L436.58,376.54 L435.08,376.52 L433.59,376.54 L432.10,375.61Z" fill="#0b0b0b" opacity="1" filter="url(#bl3)"/>
<path d="M454.00,375.34 L455.50,374.33 L457.00,374.38 L458.50,374.43 L460.00,374.49 L461.50,374.55 L463.00,374.60 L464.50,374.65 L466.00,374.68 L467.50,374.69 L469.00,374.69 L470.50,374.66 L472.00,375.77 L472.00,378.63 L470.50,379.64 L469.00,379.51 L467.50,379.41 L466.00,379.32 L464.50,379.25 L463.00,379.20 L461.50,379.15 L460.00,379.11 L458.50,379.07 L457.00,379.02 L455.50,378.97 L454.00,377.87Z" fill="#0b0b0b" opacity="1" filter="url(#bl3)"/>
<path d="M474.70,375.79 L476.26,374.91 L477.82,375.02 L479.38,375.13 L480.93,375.23 L482.49,375.32 L484.05,375.40 L485.61,375.46 L487.17,375.49 L488.72,375.49 L490.28,375.47 L491.84,375.40 L493.40,376.43 L493.40,379.18 L491.84,380.06 L490.28,379.87 L488.72,379.71 L487.17,379.58 L485.61,379.48 L484.05,379.40 L482.49,379.34 L480.93,379.30 L479.38,379.27 L477.82,379.24 L476.26,379.22 L474.70,378.21Z" fill="#0b0b0b" opacity="1" filter="url(#bl3)"/>
<path d="M496.30,376.45 L497.88,375.72 L499.47,375.84 L501.05,375.94 L502.63,376.03 L504.22,376.10 L505.80,376.15 L507.38,376.18 L508.97,376.19 L510.55,376.16 L512.13,376.11 L513.72,376.02 L515.30,376.85 L515.30,379.15 L513.72,379.89 L512.13,379.72 L510.55,379.59 L508.97,379.48 L507.38,379.40 L505.80,379.35 L504.22,379.32 L502.63,379.31 L501.05,379.31 L499.47,379.33 L497.88,379.36 L496.30,378.55Z" fill="#0b0b0b" opacity="1" filter="url(#bl3)"/>
<path d="M518.50,377.01 L520.18,376.32 L521.87,376.43 L523.55,376.54 L525.23,376.64 L526.92,376.73 L528.60,376.80 L530.28,376.86 L531.97,376.90 L533.65,376.91 L535.33,376.90 L537.02,376.87 L538.70,377.70 L538.70,379.90 L537.02,380.60 L535.33,380.43 L533.65,380.29 L531.97,380.17 L530.28,380.08 L528.60,380.00 L526.92,379.94 L525.23,379.90 L523.55,379.86 L521.87,379.84 L520.18,379.82 L518.50,378.99Z" fill="#0b0b0b" opacity="1" filter="url(#bl3)"/>
<circle cx="483.5" cy="332.8" r="0.5" fill="#222"/><circle cx="486.8" cy="331.5" r="0.4" fill="#333"/><circle cx="504.5" cy="324" r="0.5" fill="#333"/><circle cx="484.5" cy="346.5" r="0.5" fill="#333"/><circle cx="509" cy="347" r="0.5" fill="#333"/><circle cx="519" cy="345" r="0.4" fill="#444"/><circle cx="524.5" cy="346" r="0.4" fill="#444"/><circle cx="531" cy="343.5" r="0.4" fill="#444"/><circle cx="458" cy="348.3" r="0.9" fill="#222"/><circle cx="493" cy="392" r="0.6" fill="#555"/>
<circle cx="348.7" cy="338.8" r="0.8" fill="#111"/><circle cx="370.2" cy="337.3" r="0.5" fill="#222"/><circle cx="414.8" cy="319.3" r="0.6" fill="#222"/><circle cx="455.8" cy="347.8" r="0.6" fill="#222"/>
<text transform="translate(335.20 321.40) scale(0.955 1)" font-size="7.75" text-anchor="end" fill="#1e1e1e" >180</text>
<line x1="337.20" y1="318.70" x2="341.30" y2="318.70" stroke="#1e1e1e" stroke-width="1.2" stroke-linecap="butt"/>
<text transform="translate(335.20 335.40) scale(0.955 1)" font-size="7.75" text-anchor="end" fill="#1e1e1e" >130</text>
<line x1="337.20" y1="332.70" x2="341.30" y2="332.70" stroke="#1e1e1e" stroke-width="1.2" stroke-linecap="butt"/>
<text transform="translate(335.20 370.20) scale(0.955 1)" font-size="7.75" text-anchor="end" fill="#1e1e1e" >40</text>
<line x1="337.20" y1="367.50" x2="341.30" y2="367.50" stroke="#1e1e1e" stroke-width="1.2" stroke-linecap="butt"/>
<text transform="translate(335.20 396.10) scale(0.955 1)" font-size="7.75" text-anchor="end" fill="#1e1e1e" >30</text>
<line x1="337.20" y1="393.40" x2="341.30" y2="393.40" stroke="#1e1e1e" stroke-width="1.2" stroke-linecap="butt"/>
<text transform="translate(330.40 296.30) scale(0.955 1)" font-size="7.75" text-anchor="middle" fill="#1e1e1e" >size</text>
<text transform="translate(331.00 305.30) scale(0.955 1)" font-size="8.17" text-anchor="middle" fill="#1e1e1e" >(KDa)</text>
<text transform="translate(350.50 305.50) rotate(-49)" font-size="9.80" text-anchor="start" fill="#1e1e1e" >WT ESC</text>
<text transform="translate(406.90 283.20) scale(0.955 1)" font-size="10.26" text-anchor="middle" fill="#1e1e1e" >MDA5 ESC</text>
<line x1="372.10" y1="289.50" x2="449.60" y2="289.50" stroke="#1e1e1e" stroke-width="1.1" stroke-linecap="butt"/>
<text transform="translate(497.50 283.20) scale(0.955 1)" font-size="10.47" text-anchor="middle" fill="#1e1e1e" >MDA5 <tspan font-size="9.42">Δ</tspan>CTD ESC</text>
<line x1="458.30" y1="289.50" x2="535.70" y2="289.50" stroke="#1e1e1e" stroke-width="1.1" stroke-linecap="butt"/>
<text transform="translate(382.40 304.30) scale(0.955 1)" font-size="10.26" text-anchor="middle" fill="#1e1e1e" >0</text>
<text transform="translate(401.10 304.30) scale(0.955 1)" font-size="10.26" text-anchor="middle" fill="#1e1e1e" >8</text>
<text transform="translate(422.20 304.30) scale(0.955 1)" font-size="10.26" text-anchor="middle" fill="#1e1e1e" >24</text>
<text transform="translate(442.60 304.30) scale(0.955 1)" font-size="10.26" text-anchor="middle" fill="#1e1e1e" >48</text>
<text transform="translate(463.20 304.30) scale(0.955 1)" font-size="10.26" text-anchor="middle" fill="#1e1e1e" >0</text>
<text transform="translate(482.20 304.30) scale(0.955 1)" font-size="10.26" text-anchor="middle" fill="#1e1e1e" >8</text>
<text transform="translate(501.50 304.30) scale(0.955 1)" font-size="10.26" text-anchor="middle" fill="#1e1e1e" >24</text>
<text transform="translate(524.00 304.30) scale(0.955 1)" font-size="10.26" text-anchor="middle" fill="#1e1e1e" >48</text>
<text transform="translate(540.60 304.30) scale(0.955 1)" font-size="10.26" text-anchor="start" fill="#1e1e1e" >+ Dox (h)</text>
<text transform="translate(545.60 343.20) scale(0.955 1)" font-size="10.26" text-anchor="start" fill="#1e1e1e" >FLAG</text>
<text transform="translate(545.60 383.00) scale(0.955 1)" font-size="10.26" text-anchor="start" fill="#1e1e1e" >GAPDH</text>
<text transform="translate(358.60 409.20) scale(0.955 1)" font-size="10.26" text-anchor="middle" fill="#1e1e1e" >1</text>
<text transform="translate(377.60 409.20) scale(0.955 1)" font-size="10.26" text-anchor="middle" fill="#1e1e1e" >2</text>
<text transform="translate(399.30 409.20) scale(0.955 1)" font-size="10.26" text-anchor="middle" fill="#1e1e1e" >3</text>
<text transform="translate(418.50 409.20) scale(0.955 1)" font-size="10.26" text-anchor="middle" fill="#1e1e1e" >4</text>
<text transform="translate(440.70 409.20) scale(0.955 1)" font-size="10.26" text-anchor="middle" fill="#1e1e1e" >5</text>
<text transform="translate(462.80 409.20) scale(0.955 1)" font-size="10.26" text-anchor="middle" fill="#1e1e1e" >6</text>
<text transform="translate(484.60 409.20) scale(0.955 1)" font-size="10.26" text-anchor="middle" fill="#1e1e1e" >7</text>
<text transform="translate(506.40 409.20) scale(0.955 1)" font-size="10.26" text-anchor="middle" fill="#1e1e1e" >8</text>
<text transform="translate(528.40 409.20) scale(0.955 1)" font-size="10.26" text-anchor="middle" fill="#1e1e1e" >9</text>
<text transform="translate(1.90 439.50) scale(0.955 1)" font-size="9.21" text-anchor="start" fill="#111" font-weight="bold" >e</text>
<line x1="41.50" y1="460.50" x2="41.50" y2="537.85" stroke="#1e1e1e" stroke-width="1.6" stroke-linecap="butt"/>
<line x1="40.70" y1="537.10" x2="226.20" y2="537.10" stroke="#1e1e1e" stroke-width="1.5" stroke-linecap="butt"/>
<line x1="38.20" y1="461.40" x2="41.50" y2="461.40" stroke="#1e1e1e" stroke-width="1.1" stroke-linecap="butt"/>
<text transform="translate(35.60 466.60) scale(0.955 1)" font-size="10.47" text-anchor="end" fill="#1e1e1e" >40</text>
<line x1="38.20" y1="480.30" x2="41.50" y2="480.30" stroke="#1e1e1e" stroke-width="1.1" stroke-linecap="butt"/>
<text transform="translate(35.60 485.50) scale(0.955 1)" font-size="10.47" text-anchor="end" fill="#1e1e1e" >30</text>
<line x1="38.20" y1="499.20" x2="41.50" y2="499.20" stroke="#1e1e1e" stroke-width="1.1" stroke-linecap="butt"/>
<text transform="translate(35.60 504.40) scale(0.955 1)" font-size="10.47" text-anchor="end" fill="#1e1e1e" >20</text>
<line x1="38.20" y1="518.10" x2="41.50" y2="518.10" stroke="#1e1e1e" stroke-width="1.1" stroke-linecap="butt"/>
<text transform="translate(35.60 523.30) scale(0.955 1)" font-size="10.47" text-anchor="end" fill="#1e1e1e" >10</text>
<line x1="38.20" y1="537.00" x2="41.50" y2="537.00" stroke="#1e1e1e" stroke-width="1.1" stroke-linecap="butt"/>
<text transform="translate(34.00 542.50) scale(0.955 1)" font-size="10.47" text-anchor="end" fill="#1e1e1e" >0</text>
<text transform="translate(53.70 455.00) scale(0.955 1)" font-size="10.47" text-anchor="start" fill="#1e1e1e" font-style="italic" >Ifnb1</text>
<line x1="102.30" y1="537.10" x2="102.30" y2="539.40" stroke="#1e1e1e" stroke-width="1.0" stroke-linecap="butt"/>
<line x1="164.90" y1="537.10" x2="164.90" y2="539.40" stroke="#1e1e1e" stroke-width="1.0" stroke-linecap="butt"/>
<text transform="translate(51.00 548.20) scale(0.955 1)" font-size="10.47" text-anchor="middle" fill="#1e1e1e" >0</text>
<text transform="translate(63.90 548.20) scale(0.955 1)" font-size="10.47" text-anchor="middle" fill="#1e1e1e" >8</text>
<text transform="translate(76.70 548.20) scale(0.955 1)" font-size="10.47" text-anchor="middle" fill="#1e1e1e" >24</text>
<text transform="translate(90.70 548.20) scale(0.955 1)" font-size="10.47" text-anchor="middle" fill="#1e1e1e" >48</text>
<text transform="translate(113.80 548.20) scale(0.955 1)" font-size="10.47" text-anchor="middle" fill="#1e1e1e" >0</text>
<text transform="translate(126.40 548.20) scale(0.955 1)" font-size="10.47" text-anchor="middle" fill="#1e1e1e" >8</text>
<text transform="translate(139.20 548.20) scale(0.955 1)" font-size="10.47" text-anchor="middle" fill="#1e1e1e" >24</text>
<text transform="translate(152.60 548.20) scale(0.955 1)" font-size="10.47" text-anchor="middle" fill="#1e1e1e" >48</text>
<text transform="translate(176.90 548.20) scale(0.955 1)" font-size="10.47" text-anchor="middle" fill="#1e1e1e" >0</text>
<text transform="translate(189.40 548.20) scale(0.955 1)" font-size="10.47" text-anchor="middle" fill="#1e1e1e" >8</text>
<text transform="translate(202.30 548.20) scale(0.955 1)" font-size="10.47" text-anchor="middle" fill="#1e1e1e" >24</text>
<text transform="translate(215.70 548.20) scale(0.955 1)" font-size="10.47" text-anchor="middle" fill="#1e1e1e" >48</text>
<text transform="translate(70.30 559.60) scale(0.955 1)" font-size="10.47" text-anchor="middle" fill="#1e1e1e" >ESC</text>
<text transform="translate(133.10 559.60) scale(0.955 1)" font-size="10.47" text-anchor="middle" fill="#1e1e1e" >MDA5</text>
<text transform="translate(197.30 559.60) scale(0.955 1)" font-size="10.47" text-anchor="middle" fill="#1e1e1e" >MDA5<tspan font-size="9.74">Δ</tspan>CTD</text>
<rect x="48.00" y="535.15" width="6.40" height="1.95" fill="#ffffff" stroke="#1e1e1e" stroke-width="1.15" rx="0" />
<rect x="60.80" y="536.55" width="6.40" height="0.55" fill="#ffffff" stroke="#1e1e1e" stroke-width="1.15" rx="0" />
<rect x="73.70" y="536.85" width="6.40" height="0.25" fill="#ffffff" stroke="#1e1e1e" stroke-width="1.15" rx="0" />
<rect x="87.60" y="534.85" width="6.40" height="2.25" fill="#ffffff" stroke="#1e1e1e" stroke-width="1.15" rx="0" />
<rect x="110.60" y="534.65" width="6.40" height="2.45" fill="#10648e" stroke="#1e1e1e" stroke-width="1.15" rx="0" />
<rect x="123.20" y="502.65" width="6.40" height="34.45" fill="#10648e" stroke="#1e1e1e" stroke-width="1.15" rx="0" />
<rect x="136.20" y="520.45" width="6.40" height="16.65" fill="#10648e" stroke="#1e1e1e" stroke-width="1.15" rx="0" />
<rect x="149.00" y="532.45" width="6.40" height="4.65" fill="#10648e" stroke="#1e1e1e" stroke-width="1.15" rx="0" />
<rect x="173.70" y="533.95" width="6.40" height="3.15" fill="#e6b02a" stroke="#1e1e1e" stroke-width="1.15" rx="0" />
<rect x="186.50" y="532.45" width="6.40" height="4.65" fill="#e6b02a" stroke="#1e1e1e" stroke-width="1.15" rx="0" />
<rect x="199.50" y="536.45" width="6.40" height="0.65" fill="#e6b02a" stroke="#1e1e1e" stroke-width="1.15" rx="0" />
<rect x="212.20" y="536.45" width="6.40" height="0.65" fill="#e6b02a" stroke="#1e1e1e" stroke-width="1.15" rx="0" />
<line x1="126.50" y1="485.40" x2="126.50" y2="519.00" stroke="#454545" stroke-width="0.9" stroke-linecap="butt"/>
<line x1="125.20" y1="485.40" x2="127.80" y2="485.40" stroke="#454545" stroke-width="0.8" stroke-linecap="butt"/>
<line x1="125.46" y1="519.00" x2="127.54" y2="519.00" stroke="#454545" stroke-width="0.7" stroke-linecap="butt"/>
<line x1="139.50" y1="511.00" x2="139.50" y2="529.00" stroke="#454545" stroke-width="0.9" stroke-linecap="butt"/>
<line x1="138.20" y1="511.00" x2="140.80" y2="511.00" stroke="#454545" stroke-width="0.8" stroke-linecap="butt"/>
<line x1="138.46" y1="529.00" x2="140.54" y2="529.00" stroke="#454545" stroke-width="0.7" stroke-linecap="butt"/>
<line x1="51.50" y1="532.20" x2="51.50" y2="536.00" stroke="#454545" stroke-width="0.9" stroke-linecap="butt"/>
<line x1="50.20" y1="532.20" x2="52.80" y2="532.20" stroke="#454545" stroke-width="0.8" stroke-linecap="butt"/>
<line x1="50.46" y1="536.00" x2="52.54" y2="536.00" stroke="#454545" stroke-width="0.7" stroke-linecap="butt"/>
<line x1="90.50" y1="532.00" x2="90.50" y2="536.00" stroke="#454545" stroke-width="0.9" stroke-linecap="butt"/>
<line x1="89.20" y1="532.00" x2="91.80" y2="532.00" stroke="#454545" stroke-width="0.8" stroke-linecap="butt"/>
<line x1="89.46" y1="536.00" x2="91.54" y2="536.00" stroke="#454545" stroke-width="0.7" stroke-linecap="butt"/>
<circle cx="51.20" cy="531.30" r="1.25" fill="#999999" stroke="#2c2c2c" stroke-width="0.9"/>
<circle cx="51.20" cy="535.50" r="1.25" fill="#999999" stroke="#2c2c2c" stroke-width="0.9"/>
<circle cx="64.00" cy="535.60" r="1.25" fill="#999999" stroke="#2c2c2c" stroke-width="0.9"/>
<circle cx="76.90" cy="536.00" r="1.25" fill="#999999" stroke="#2c2c2c" stroke-width="0.9"/>
<circle cx="90.80" cy="531.30" r="1.25" fill="#999999" stroke="#2c2c2c" stroke-width="0.9"/>
<circle cx="90.80" cy="535.30" r="1.25" fill="#999999" stroke="#2c2c2c" stroke-width="0.9"/>
<circle cx="113.80" cy="533.60" r="1.25" fill="#999999" stroke="#2c2c2c" stroke-width="0.9"/>
<circle cx="126.60" cy="470.20" r="1.25" fill="#999999" stroke="#2c2c2c" stroke-width="0.9"/>
<circle cx="126.60" cy="514.80" r="1.25" fill="#999999" stroke="#2c2c2c" stroke-width="0.9"/>
<circle cx="126.60" cy="522.00" r="1.25" fill="#999999" stroke="#2c2c2c" stroke-width="0.9"/>
<circle cx="139.50" cy="504.50" r="1.25" fill="#999999" stroke="#2c2c2c" stroke-width="0.9"/>
<circle cx="139.50" cy="520.50" r="1.25" fill="#999999" stroke="#2c2c2c" stroke-width="0.9"/>
<circle cx="139.50" cy="535.10" r="1.25" fill="#999999" stroke="#2c2c2c" stroke-width="0.9"/>
<circle cx="152.20" cy="531.90" r="1.25" fill="#999999" stroke="#2c2c2c" stroke-width="0.9"/>
<circle cx="176.90" cy="531.30" r="1.25" fill="#999999" stroke="#2c2c2c" stroke-width="0.9"/>
<circle cx="176.90" cy="535.00" r="1.25" fill="#999999" stroke="#2c2c2c" stroke-width="0.9"/>
<circle cx="189.70" cy="530.90" r="1.25" fill="#999999" stroke="#2c2c2c" stroke-width="0.9"/>
<circle cx="189.70" cy="534.50" r="1.25" fill="#999999" stroke="#2c2c2c" stroke-width="0.9"/>
<circle cx="202.70" cy="535.80" r="1.25" fill="#999999" stroke="#2c2c2c" stroke-width="0.9"/>
<circle cx="215.40" cy="535.60" r="1.25" fill="#999999" stroke="#2c2c2c" stroke-width="0.9"/>
<text transform="translate(8.60 500.00) rotate(-90) scale(1 0.955)" font-size="10.00" text-anchor="middle" fill="#1e1e1e" >norm to <tspan font-style="italic">actb</tspan></text>
<text transform="translate(20.00 500.00) rotate(-90) scale(1 0.955)" font-size="10.00" text-anchor="middle" fill="#1e1e1e" >(rel to t=0)</text>
<line x1="251.30" y1="461.20" x2="251.30" y2="537.65" stroke="#1e1e1e" stroke-width="1.6" stroke-linecap="butt"/>
<line x1="250.50" y1="536.90" x2="431.20" y2="536.90" stroke="#1e1e1e" stroke-width="1.5" stroke-linecap="butt"/>
<line x1="248.00" y1="469.30" x2="251.30" y2="469.30" stroke="#1e1e1e" stroke-width="1.1" stroke-linecap="butt"/>
<text transform="translate(245.40 472.90) scale(0.955 1)" font-size="10.47" text-anchor="end" fill="#1e1e1e" >40</text>
<line x1="248.00" y1="486.10" x2="251.30" y2="486.10" stroke="#1e1e1e" stroke-width="1.1" stroke-linecap="butt"/>
<text transform="translate(245.40 489.70) scale(0.955 1)" font-size="10.47" text-anchor="end" fill="#1e1e1e" >30</text>
<line x1="248.00" y1="503.10" x2="251.30" y2="503.10" stroke="#1e1e1e" stroke-width="1.1" stroke-linecap="butt"/>
<text transform="translate(245.40 506.70) scale(0.955 1)" font-size="10.47" text-anchor="end" fill="#1e1e1e" >20</text>
<line x1="248.00" y1="520.00" x2="251.30" y2="520.00" stroke="#1e1e1e" stroke-width="1.1" stroke-linecap="butt"/>
<text transform="translate(245.40 523.60) scale(0.955 1)" font-size="10.47" text-anchor="end" fill="#1e1e1e" >10</text>
<line x1="248.00" y1="537.00" x2="251.30" y2="537.00" stroke="#1e1e1e" stroke-width="1.1" stroke-linecap="butt"/>
<text transform="translate(243.80 541.90) scale(0.955 1)" font-size="10.47" text-anchor="end" fill="#1e1e1e" >0</text>
<text transform="translate(258.60 454.00) scale(0.955 1)" font-size="10.47" text-anchor="start" fill="#1e1e1e" font-style="italic" >Isg15</text>
<line x1="311.80" y1="536.90" x2="311.80" y2="539.20" stroke="#1e1e1e" stroke-width="1.0" stroke-linecap="butt"/>
<line x1="374.60" y1="536.90" x2="374.60" y2="539.20" stroke="#1e1e1e" stroke-width="1.0" stroke-linecap="butt"/>
<text transform="translate(260.90 548.20) scale(0.955 1)" font-size="10.47" text-anchor="middle" fill="#1e1e1e" >0</text>
<text transform="translate(273.70 548.20) scale(0.955 1)" font-size="10.47" text-anchor="middle" fill="#1e1e1e" >8</text>
<text transform="translate(286.50 548.20) scale(0.955 1)" font-size="10.47" text-anchor="middle" fill="#1e1e1e" >24</text>
<text transform="translate(300.60 548.20) scale(0.955 1)" font-size="10.47" text-anchor="middle" fill="#1e1e1e" >48</text>
<text transform="translate(322.40 548.20) scale(0.955 1)" font-size="10.47" text-anchor="middle" fill="#1e1e1e" >0</text>
<text transform="translate(334.80 548.20) scale(0.955 1)" font-size="10.47" text-anchor="middle" fill="#1e1e1e" >8</text>
<text transform="translate(347.80 548.20) scale(0.955 1)" font-size="10.47" text-anchor="middle" fill="#1e1e1e" >24</text>
<text transform="translate(361.00 548.20) scale(0.955 1)" font-size="10.47" text-anchor="middle" fill="#1e1e1e" >48</text>
<text transform="translate(382.80 548.20) scale(0.955 1)" font-size="10.47" text-anchor="middle" fill="#1e1e1e" >0</text>
<text transform="translate(395.60 548.20) scale(0.955 1)" font-size="10.47" text-anchor="middle" fill="#1e1e1e" >8</text>
<text transform="translate(408.00 548.20) scale(0.955 1)" font-size="10.47" text-anchor="middle" fill="#1e1e1e" >24</text>
<text transform="translate(421.40 548.20) scale(0.955 1)" font-size="10.47" text-anchor="middle" fill="#1e1e1e" >48</text>
<text transform="translate(279.40 559.60) scale(0.955 1)" font-size="10.47" text-anchor="middle" fill="#1e1e1e" >ESC</text>
<text transform="translate(343.20 559.60) scale(0.955 1)" font-size="10.47" text-anchor="middle" fill="#1e1e1e" >MDA5</text>
<text transform="translate(404.70 559.60) scale(0.955 1)" font-size="10.47" text-anchor="middle" fill="#1e1e1e" >MDA5<tspan font-size="9.74">Δ</tspan>CTD</text>
<rect x="258.20" y="535.85" width="6.40" height="1.05" fill="#ffffff" stroke="#1e1e1e" stroke-width="1.15" rx="0" />
<rect x="271.10" y="536.15" width="6.40" height="0.75" fill="#ffffff" stroke="#1e1e1e" stroke-width="1.15" rx="0" />
<rect x="284.00" y="533.35" width="6.40" height="3.55" fill="#ffffff" stroke="#1e1e1e" stroke-width="1.15" rx="0" />
<rect x="296.80" y="532.45" width="6.40" height="4.45" fill="#ffffff" stroke="#1e1e1e" stroke-width="1.15" rx="0" />
<rect x="318.50" y="534.85" width="6.40" height="2.05" fill="#10648e" stroke="#1e1e1e" stroke-width="1.15" rx="0" />
<rect x="331.30" y="505.85" width="6.40" height="31.05" fill="#10648e" stroke="#1e1e1e" stroke-width="1.15" rx="0" />
<rect x="344.10" y="511.55" width="6.40" height="25.35" fill="#10648e" stroke="#1e1e1e" stroke-width="1.15" rx="0" />
<rect x="357.10" y="527.65" width="6.40" height="9.25" fill="#10648e" stroke="#1e1e1e" stroke-width="1.15" rx="0" />
<rect x="379.20" y="533.95" width="6.40" height="2.95" fill="#e6b02a" stroke="#1e1e1e" stroke-width="1.15" rx="0" />
<rect x="392.00" y="533.95" width="6.40" height="2.95" fill="#e6b02a" stroke="#1e1e1e" stroke-width="1.15" rx="0" />
<rect x="404.80" y="536.15" width="6.40" height="0.75" fill="#e6b02a" stroke="#1e1e1e" stroke-width="1.15" rx="0" />
<rect x="417.80" y="534.15" width="6.40" height="2.75" fill="#e6b02a" stroke="#1e1e1e" stroke-width="1.15" rx="0" />
<line x1="334.50" y1="487.30" x2="334.50" y2="522.00" stroke="#454545" stroke-width="0.9" stroke-linecap="butt"/>
<line x1="333.20" y1="487.30" x2="335.80" y2="487.30" stroke="#454545" stroke-width="0.8" stroke-linecap="butt"/>
<line x1="333.46" y1="522.00" x2="335.54" y2="522.00" stroke="#454545" stroke-width="0.7" stroke-linecap="butt"/>
<line x1="347.50" y1="499.20" x2="347.50" y2="522.40" stroke="#454545" stroke-width="0.9" stroke-linecap="butt"/>
<line x1="346.20" y1="499.20" x2="348.80" y2="499.20" stroke="#454545" stroke-width="0.8" stroke-linecap="butt"/>
<line x1="346.46" y1="522.40" x2="348.54" y2="522.40" stroke="#454545" stroke-width="0.7" stroke-linecap="butt"/>
<line x1="360.50" y1="523.70" x2="360.50" y2="530.50" stroke="#454545" stroke-width="0.9" stroke-linecap="butt"/>
<line x1="359.20" y1="523.70" x2="361.80" y2="523.70" stroke="#454545" stroke-width="0.8" stroke-linecap="butt"/>
<line x1="359.46" y1="530.50" x2="361.54" y2="530.50" stroke="#454545" stroke-width="0.7" stroke-linecap="butt"/>
<line x1="261.50" y1="533.00" x2="261.50" y2="536.30" stroke="#454545" stroke-width="0.9" stroke-linecap="butt"/>
<line x1="260.20" y1="533.00" x2="262.80" y2="533.00" stroke="#454545" stroke-width="0.8" stroke-linecap="butt"/>
<line x1="260.46" y1="536.30" x2="262.54" y2="536.30" stroke="#454545" stroke-width="0.7" stroke-linecap="butt"/>
<circle cx="261.40" cy="532.80" r="1.25" fill="#999999" stroke="#2c2c2c" stroke-width="0.9"/>
<circle cx="274.30" cy="535.30" r="1.25" fill="#999999" stroke="#2c2c2c" stroke-width="0.9"/>
<circle cx="287.20" cy="531.50" r="1.25" fill="#999999" stroke="#2c2c2c" stroke-width="0.9"/>
<circle cx="287.20" cy="534.50" r="1.25" fill="#999999" stroke="#2c2c2c" stroke-width="0.9"/>
<circle cx="300.00" cy="531.00" r="1.25" fill="#999999" stroke="#2c2c2c" stroke-width="0.9"/>
<circle cx="300.00" cy="534.00" r="1.25" fill="#999999" stroke="#2c2c2c" stroke-width="0.9"/>
<circle cx="321.70" cy="533.60" r="1.25" fill="#999999" stroke="#2c2c2c" stroke-width="0.9"/>
<circle cx="334.50" cy="470.40" r="1.25" fill="#999999" stroke="#2c2c2c" stroke-width="0.9"/>
<circle cx="334.50" cy="520.90" r="1.25" fill="#999999" stroke="#2c2c2c" stroke-width="0.9"/>
<circle cx="334.50" cy="525.20" r="1.25" fill="#999999" stroke="#2c2c2c" stroke-width="0.9"/>
<circle cx="347.30" cy="492.40" r="1.25" fill="#999999" stroke="#2c2c2c" stroke-width="0.9"/>
<circle cx="347.30" cy="509.50" r="1.25" fill="#999999" stroke="#2c2c2c" stroke-width="0.9"/>
<circle cx="347.30" cy="531.30" r="1.25" fill="#999999" stroke="#2c2c2c" stroke-width="0.9"/>
<circle cx="360.30" cy="522.80" r="1.25" fill="#999999" stroke="#2c2c2c" stroke-width="0.9"/>
<circle cx="360.30" cy="529.00" r="1.25" fill="#999999" stroke="#2c2c2c" stroke-width="0.9"/>
<circle cx="360.30" cy="531.00" r="1.25" fill="#999999" stroke="#2c2c2c" stroke-width="0.9"/>
<circle cx="382.40" cy="532.50" r="1.25" fill="#999999" stroke="#2c2c2c" stroke-width="0.9"/>
<circle cx="382.40" cy="535.00" r="1.25" fill="#999999" stroke="#2c2c2c" stroke-width="0.9"/>
<circle cx="395.20" cy="532.50" r="1.25" fill="#999999" stroke="#2c2c2c" stroke-width="0.9"/>
<circle cx="395.20" cy="535.00" r="1.25" fill="#999999" stroke="#2c2c2c" stroke-width="0.9"/>
<circle cx="408.00" cy="535.40" r="1.25" fill="#999999" stroke="#2c2c2c" stroke-width="0.9"/>
<circle cx="421.00" cy="532.80" r="1.25" fill="#999999" stroke="#2c2c2c" stroke-width="0.9"/>
<circle cx="421.00" cy="535.00" r="1.25" fill="#999999" stroke="#2c2c2c" stroke-width="0.9"/>
<line x1="457.30" y1="461.20" x2="457.30" y2="537.25" stroke="#1e1e1e" stroke-width="1.6" stroke-linecap="butt"/>
<line x1="456.50" y1="536.50" x2="640.60" y2="536.50" stroke="#1e1e1e" stroke-width="1.5" stroke-linecap="butt"/>
<line x1="454.00" y1="462.20" x2="457.30" y2="462.20" stroke="#1e1e1e" stroke-width="1.1" stroke-linecap="butt"/>
<text transform="translate(451.40 466.40) scale(0.955 1)" font-size="10.47" text-anchor="end" fill="#1e1e1e" >25</text>
<line x1="454.00" y1="477.10" x2="457.30" y2="477.10" stroke="#1e1e1e" stroke-width="1.1" stroke-linecap="butt"/>
<text transform="translate(451.40 481.30) scale(0.955 1)" font-size="10.47" text-anchor="end" fill="#1e1e1e" >20</text>
<line x1="454.00" y1="491.80" x2="457.30" y2="491.80" stroke="#1e1e1e" stroke-width="1.1" stroke-linecap="butt"/>
<text transform="translate(451.40 496.00) scale(0.955 1)" font-size="10.47" text-anchor="end" fill="#1e1e1e" >15</text>
<line x1="454.00" y1="506.50" x2="457.30" y2="506.50" stroke="#1e1e1e" stroke-width="1.1" stroke-linecap="butt"/>
<text transform="translate(451.40 510.70) scale(0.955 1)" font-size="10.47" text-anchor="end" fill="#1e1e1e" >10</text>
<line x1="454.00" y1="521.40" x2="457.30" y2="521.40" stroke="#1e1e1e" stroke-width="1.1" stroke-linecap="butt"/>
<text transform="translate(451.40 525.60) scale(0.955 1)" font-size="10.47" text-anchor="end" fill="#1e1e1e" >5</text>
<line x1="454.00" y1="536.40" x2="457.30" y2="536.40" stroke="#1e1e1e" stroke-width="1.1" stroke-linecap="butt"/>
<text transform="translate(449.80 540.90) scale(0.955 1)" font-size="10.47" text-anchor="end" fill="#1e1e1e" >0</text>
<text transform="translate(462.40 453.80) scale(0.955 1)" font-size="10.47" text-anchor="start" fill="#1e1e1e" font-style="italic" >Trim5</text>
<line x1="518.20" y1="536.50" x2="518.20" y2="538.80" stroke="#1e1e1e" stroke-width="1.0" stroke-linecap="butt"/>
<line x1="581.20" y1="536.50" x2="581.20" y2="538.80" stroke="#1e1e1e" stroke-width="1.0" stroke-linecap="butt"/>
<text transform="translate(467.10 548.20) scale(0.955 1)" font-size="10.47" text-anchor="middle" fill="#1e1e1e" >0</text>
<text transform="translate(479.50 548.20) scale(0.955 1)" font-size="10.47" text-anchor="middle" fill="#1e1e1e" >8</text>
<text transform="translate(492.70 548.20) scale(0.955 1)" font-size="10.47" text-anchor="middle" fill="#1e1e1e" >24</text>
<text transform="translate(506.90 548.20) scale(0.955 1)" font-size="10.47" text-anchor="middle" fill="#1e1e1e" >48</text>
<text transform="translate(529.90 548.20) scale(0.955 1)" font-size="10.47" text-anchor="middle" fill="#1e1e1e" >0</text>
<text transform="translate(542.30 548.20) scale(0.955 1)" font-size="10.47" text-anchor="middle" fill="#1e1e1e" >8</text>
<text transform="translate(555.40 548.20) scale(0.955 1)" font-size="10.47" text-anchor="middle" fill="#1e1e1e" >24</text>
<text transform="translate(568.90 548.20) scale(0.955 1)" font-size="10.47" text-anchor="middle" fill="#1e1e1e" >48</text>
<text transform="translate(592.70 548.20) scale(0.955 1)" font-size="10.47" text-anchor="middle" fill="#1e1e1e" >0</text>
<text transform="translate(605.40 548.20) scale(0.955 1)" font-size="10.47" text-anchor="middle" fill="#1e1e1e" >8</text>
<text transform="translate(618.60 548.20) scale(0.955 1)" font-size="10.47" text-anchor="middle" fill="#1e1e1e" >24</text>
<text transform="translate(631.40 548.20) scale(0.955 1)" font-size="10.47" text-anchor="middle" fill="#1e1e1e" >48</text>
<text transform="translate(485.50 559.60) scale(0.955 1)" font-size="10.47" text-anchor="middle" fill="#1e1e1e" >ESC</text>
<text transform="translate(549.00 559.60) scale(0.955 1)" font-size="10.47" text-anchor="middle" fill="#1e1e1e" >MDA5</text>
<text transform="translate(612.50 559.60) scale(0.955 1)" font-size="10.47" text-anchor="middle" fill="#1e1e1e" >MDA5<tspan font-size="9.74">Δ</tspan>CTD</text>
<rect x="464.60" y="533.25" width="6.40" height="3.25" fill="#ffffff" stroke="#1e1e1e" stroke-width="1.15" rx="0" />
<rect x="477.80" y="531.95" width="6.40" height="4.55" fill="#ffffff" stroke="#1e1e1e" stroke-width="1.15" rx="0" />
<rect x="490.90" y="532.85" width="6.40" height="3.65" fill="#ffffff" stroke="#1e1e1e" stroke-width="1.15" rx="0" />
<rect x="504.00" y="532.45" width="6.40" height="4.05" fill="#ffffff" stroke="#1e1e1e" stroke-width="1.15" rx="0" />
<rect x="527.70" y="532.85" width="6.40" height="3.65" fill="#10648e" stroke="#1e1e1e" stroke-width="1.15" rx="0" />
<rect x="539.90" y="493.95" width="6.40" height="42.55" fill="#10648e" stroke="#1e1e1e" stroke-width="1.15" rx="0" />
<rect x="553.70" y="507.25" width="6.40" height="29.25" fill="#10648e" stroke="#1e1e1e" stroke-width="1.15" rx="0" />
<rect x="567.00" y="525.85" width="6.40" height="10.65" fill="#10648e" stroke="#1e1e1e" stroke-width="1.15" rx="0" />
<rect x="590.60" y="532.85" width="6.40" height="3.65" fill="#e6b02a" stroke="#1e1e1e" stroke-width="1.15" rx="0" />
<rect x="602.70" y="529.45" width="6.40" height="7.05" fill="#e6b02a" stroke="#1e1e1e" stroke-width="1.15" rx="0" />
<rect x="616.60" y="536.25" width="6.40" height="0.25" fill="#e6b02a" stroke="#1e1e1e" stroke-width="1.15" rx="0" />
<rect x="628.70" y="532.85" width="6.40" height="3.65" fill="#e6b02a" stroke="#1e1e1e" stroke-width="1.15" rx="0" />
<line x1="543.50" y1="481.10" x2="543.50" y2="505.50" stroke="#454545" stroke-width="0.9" stroke-linecap="butt"/>
<line x1="542.20" y1="481.10" x2="544.80" y2="481.10" stroke="#454545" stroke-width="0.8" stroke-linecap="butt"/>
<line x1="542.46" y1="505.50" x2="544.54" y2="505.50" stroke="#454545" stroke-width="0.7" stroke-linecap="butt"/>
<line x1="556.50" y1="494.30" x2="556.50" y2="520.00" stroke="#454545" stroke-width="0.9" stroke-linecap="butt"/>
<line x1="555.20" y1="494.30" x2="557.80" y2="494.30" stroke="#454545" stroke-width="0.8" stroke-linecap="butt"/>
<line x1="555.46" y1="520.00" x2="557.54" y2="520.00" stroke="#454545" stroke-width="0.7" stroke-linecap="butt"/>
<line x1="570.50" y1="521.90" x2="570.50" y2="528.60" stroke="#454545" stroke-width="0.9" stroke-linecap="butt"/>
<line x1="569.20" y1="521.90" x2="571.80" y2="521.90" stroke="#454545" stroke-width="0.8" stroke-linecap="butt"/>
<line x1="569.46" y1="528.60" x2="571.54" y2="528.60" stroke="#454545" stroke-width="0.7" stroke-linecap="butt"/>
<line x1="467.50" y1="529.20" x2="467.50" y2="535.50" stroke="#454545" stroke-width="0.9" stroke-linecap="butt"/>
<line x1="466.20" y1="529.20" x2="468.80" y2="529.20" stroke="#454545" stroke-width="0.8" stroke-linecap="butt"/>
<line x1="466.46" y1="535.50" x2="468.54" y2="535.50" stroke="#454545" stroke-width="0.7" stroke-linecap="butt"/>
<line x1="605.50" y1="525.20" x2="605.50" y2="532.50" stroke="#454545" stroke-width="0.9" stroke-linecap="butt"/>
<line x1="604.20" y1="525.20" x2="606.80" y2="525.20" stroke="#454545" stroke-width="0.8" stroke-linecap="butt"/>
<line x1="604.46" y1="532.50" x2="606.54" y2="532.50" stroke="#454545" stroke-width="0.7" stroke-linecap="butt"/>
<line x1="631.50" y1="529.80" x2="631.50" y2="534.50" stroke="#454545" stroke-width="0.9" stroke-linecap="butt"/>
<line x1="630.20" y1="529.80" x2="632.80" y2="529.80" stroke="#454545" stroke-width="0.8" stroke-linecap="butt"/>
<line x1="630.46" y1="534.50" x2="632.54" y2="534.50" stroke="#454545" stroke-width="0.7" stroke-linecap="butt"/>
<line x1="593.50" y1="530.00" x2="593.50" y2="534.40" stroke="#454545" stroke-width="0.9" stroke-linecap="butt"/>
<line x1="592.20" y1="530.00" x2="594.80" y2="530.00" stroke="#454545" stroke-width="0.8" stroke-linecap="butt"/>
<line x1="592.46" y1="534.40" x2="594.54" y2="534.40" stroke="#454545" stroke-width="0.7" stroke-linecap="butt"/>
<circle cx="467.80" cy="528.50" r="1.25" fill="#999999" stroke="#2c2c2c" stroke-width="0.9"/>
<circle cx="467.80" cy="534.40" r="1.25" fill="#999999" stroke="#2c2c2c" stroke-width="0.9"/>
<circle cx="481.00" cy="530.80" r="1.25" fill="#999999" stroke="#2c2c2c" stroke-width="0.9"/>
<circle cx="494.10" cy="531.00" r="1.25" fill="#999999" stroke="#2c2c2c" stroke-width="0.9"/>
<circle cx="507.20" cy="529.60" r="1.25" fill="#999999" stroke="#2c2c2c" stroke-width="0.9"/>
<circle cx="507.20" cy="533.50" r="1.25" fill="#999999" stroke="#2c2c2c" stroke-width="0.9"/>
<circle cx="530.90" cy="531.30" r="1.25" fill="#999999" stroke="#2c2c2c" stroke-width="0.9"/>
<circle cx="543.10" cy="470.00" r="1.25" fill="#999999" stroke="#2c2c2c" stroke-width="0.9"/>
<circle cx="543.10" cy="503.80" r="1.25" fill="#999999" stroke="#2c2c2c" stroke-width="0.9"/>
<circle cx="543.10" cy="506.30" r="1.25" fill="#999999" stroke="#2c2c2c" stroke-width="0.9"/>
<circle cx="556.90" cy="505.70" r="1.25" fill="#999999" stroke="#2c2c2c" stroke-width="0.9"/>
<circle cx="556.90" cy="529.80" r="1.25" fill="#999999" stroke="#2c2c2c" stroke-width="0.9"/>
<circle cx="570.20" cy="520.50" r="1.25" fill="#999999" stroke="#2c2c2c" stroke-width="0.9"/>
<circle cx="570.20" cy="527.60" r="1.25" fill="#999999" stroke="#2c2c2c" stroke-width="0.9"/>
<circle cx="593.80" cy="529.30" r="1.25" fill="#999999" stroke="#2c2c2c" stroke-width="0.9"/>
<circle cx="593.80" cy="534.00" r="1.25" fill="#999999" stroke="#2c2c2c" stroke-width="0.9"/>
<circle cx="605.90" cy="523.40" r="1.25" fill="#999999" stroke="#2c2c2c" stroke-width="0.9"/>
<circle cx="605.90" cy="531.50" r="1.25" fill="#999999" stroke="#2c2c2c" stroke-width="0.9"/>
<circle cx="619.80" cy="535.50" r="1.25" fill="#999999" stroke="#2c2c2c" stroke-width="0.9"/>
<circle cx="631.90" cy="528.40" r="1.25" fill="#999999" stroke="#2c2c2c" stroke-width="0.9"/>
<circle cx="631.90" cy="534.00" r="1.25" fill="#999999" stroke="#2c2c2c" stroke-width="0.9"/>
<circle cx="556.90" cy="485.80" r="1.3" fill="#b9b9b9" stroke="#a6a6a6" stroke-width="0.9"/>
<line x1="525.20" y1="461.80" x2="541.20" y2="461.80" stroke="#262626" stroke-width="1.7" stroke-linecap="butt"/>
<text transform="translate(533.40 460.60) scale(0.955 1)" font-size="10.47" text-anchor="middle" fill="#1a1a1a" stroke="#1a1a1a" stroke-width="0.2">*</text>
<rect x="597.70" y="456.00" width="5.90" height="6.30" fill="#ffffff" stroke="#1e1e1e" stroke-width="1.3" rx="0" />
<text transform="translate(605.60 462.70) scale(0.955 1)" font-size="10.47" text-anchor="start" fill="#1e1e1e" >ESC</text>
<rect x="597.70" y="471.70" width="5.90" height="6.30" fill="#10648e" stroke="#1e1e1e" stroke-width="1.3" rx="0" />
<text transform="translate(605.60 478.30) scale(0.955 1)" font-size="10.47" text-anchor="start" fill="#1e1e1e" >MDA5 ESC</text>
<rect x="597.70" y="487.80" width="5.90" height="6.30" fill="#e6b02a" stroke="#1e1e1e" stroke-width="1.3" rx="0" />
<text transform="translate(605.60 494.90) scale(0.955 1)" font-size="10.47" text-anchor="start" fill="#1e1e1e" >MDA5 <tspan font-size="9.95">Δ</tspan>CTD ESC</text>
<line x1="42.60" y1="580.90" x2="42.60" y2="656.95" stroke="#1e1e1e" stroke-width="1.6" stroke-linecap="butt"/>
<line x1="41.80" y1="656.20" x2="226.80" y2="656.20" stroke="#1e1e1e" stroke-width="1.5" stroke-linecap="butt"/>
<line x1="39.30" y1="581.40" x2="42.60" y2="581.40" stroke="#1e1e1e" stroke-width="1.1" stroke-linecap="butt"/>
<text transform="translate(36.70 585.60) scale(0.955 1)" font-size="10.47" text-anchor="end" fill="#1e1e1e" >40</text>
<line x1="39.30" y1="600.10" x2="42.60" y2="600.10" stroke="#1e1e1e" stroke-width="1.1" stroke-linecap="butt"/>
<text transform="translate(36.70 604.30) scale(0.955 1)" font-size="10.47" text-anchor="end" fill="#1e1e1e" >30</text>
<line x1="39.30" y1="618.80" x2="42.60" y2="618.80" stroke="#1e1e1e" stroke-width="1.1" stroke-linecap="butt"/>
<text transform="translate(36.70 623.00) scale(0.955 1)" font-size="10.47" text-anchor="end" fill="#1e1e1e" >20</text>
<line x1="39.30" y1="637.50" x2="42.60" y2="637.50" stroke="#1e1e1e" stroke-width="1.1" stroke-linecap="butt"/>
<text transform="translate(36.70 641.70) scale(0.955 1)" font-size="10.47" text-anchor="end" fill="#1e1e1e" >10</text>
<line x1="39.30" y1="656.20" x2="42.60" y2="656.20" stroke="#1e1e1e" stroke-width="1.1" stroke-linecap="butt"/>
<text transform="translate(35.10 660.70) scale(0.955 1)" font-size="10.47" text-anchor="end" fill="#1e1e1e" >0</text>
<text transform="translate(56.90 590.20) scale(0.955 1)" font-size="10.47" text-anchor="start" fill="#1e1e1e" font-style="italic" >Herc6</text>
<line x1="103.00" y1="656.20" x2="103.00" y2="658.50" stroke="#1e1e1e" stroke-width="1.0" stroke-linecap="butt"/>
<line x1="165.50" y1="656.20" x2="165.50" y2="658.50" stroke="#1e1e1e" stroke-width="1.0" stroke-linecap="butt"/>
<text transform="translate(51.90 668.20) scale(0.955 1)" font-size="10.47" text-anchor="middle" fill="#1e1e1e" >0</text>
<text transform="translate(64.50 668.20) scale(0.955 1)" font-size="10.47" text-anchor="middle" fill="#1e1e1e" >8</text>
<text transform="translate(77.60 668.20) scale(0.955 1)" font-size="10.47" text-anchor="middle" fill="#1e1e1e" >24</text>
<text transform="translate(91.50 668.20) scale(0.955 1)" font-size="10.47" text-anchor="middle" fill="#1e1e1e" >48</text>
<text transform="translate(114.60 668.20) scale(0.955 1)" font-size="10.47" text-anchor="middle" fill="#1e1e1e" >0</text>
<text transform="translate(127.10 668.20) scale(0.955 1)" font-size="10.47" text-anchor="middle" fill="#1e1e1e" >8</text>
<text transform="translate(140.40 668.20) scale(0.955 1)" font-size="10.47" text-anchor="middle" fill="#1e1e1e" >24</text>
<text transform="translate(153.10 668.20) scale(0.955 1)" font-size="10.47" text-anchor="middle" fill="#1e1e1e" >48</text>
<text transform="translate(177.80 668.20) scale(0.955 1)" font-size="10.47" text-anchor="middle" fill="#1e1e1e" >0</text>
<text transform="translate(190.50 668.20) scale(0.955 1)" font-size="10.47" text-anchor="middle" fill="#1e1e1e" >8</text>
<text transform="translate(203.40 668.20) scale(0.955 1)" font-size="10.47" text-anchor="middle" fill="#1e1e1e" >24</text>
<text transform="translate(216.10 668.20) scale(0.955 1)" font-size="10.47" text-anchor="middle" fill="#1e1e1e" >48</text>
<text transform="translate(70.60 678.80) scale(0.955 1)" font-size="10.47" text-anchor="middle" fill="#1e1e1e" >ESC</text>
<text transform="translate(134.00 680.60) scale(0.955 1)" font-size="10.47" text-anchor="middle" fill="#1e1e1e" >MDA5</text>
<text transform="translate(197.50 680.60) scale(0.955 1)" font-size="10.47" text-anchor="middle" fill="#1e1e1e" >MDA5<tspan font-size="9.74">Δ</tspan>CTD</text>
<rect x="49.00" y="654.15" width="6.40" height="2.05" fill="#ffffff" stroke="#1e1e1e" stroke-width="1.15" rx="0" />
<rect x="62.00" y="654.75" width="6.40" height="1.45" fill="#ffffff" stroke="#1e1e1e" stroke-width="1.15" rx="0" />
<rect x="74.80" y="654.75" width="6.40" height="1.45" fill="#ffffff" stroke="#1e1e1e" stroke-width="1.15" rx="0" />
<rect x="87.70" y="654.35" width="6.40" height="1.85" fill="#ffffff" stroke="#1e1e1e" stroke-width="1.15" rx="0" />
<rect x="109.10" y="654.55" width="6.40" height="1.65" fill="#10648e" stroke="#1e1e1e" stroke-width="1.15" rx="0" />
<rect x="121.90" y="627.35" width="6.40" height="28.85" fill="#10648e" stroke="#1e1e1e" stroke-width="1.15" rx="0" />
<rect x="135.10" y="620.15" width="6.40" height="36.05" fill="#10648e" stroke="#1e1e1e" stroke-width="1.15" rx="0" />
<rect x="148.00" y="643.45" width="6.40" height="12.75" fill="#10648e" stroke="#1e1e1e" stroke-width="1.15" rx="0" />
<rect x="170.80" y="653.75" width="6.40" height="2.45" fill="#e6b02a" stroke="#1e1e1e" stroke-width="1.15" rx="0" />
<rect x="182.70" y="652.45" width="6.40" height="3.75" fill="#e6b02a" stroke="#1e1e1e" stroke-width="1.15" rx="0" />
<rect x="196.40" y="655.85" width="6.40" height="0.35" fill="#e6b02a" stroke="#1e1e1e" stroke-width="1.15" rx="0" />
<rect x="209.70" y="654.55" width="6.40" height="1.65" fill="#e6b02a" stroke="#1e1e1e" stroke-width="1.15" rx="0" />
<line x1="125.50" y1="615.80" x2="125.50" y2="637.00" stroke="#454545" stroke-width="0.9" stroke-linecap="butt"/>
<line x1="124.20" y1="615.80" x2="126.80" y2="615.80" stroke="#454545" stroke-width="0.8" stroke-linecap="butt"/>
<line x1="124.46" y1="637.00" x2="126.54" y2="637.00" stroke="#454545" stroke-width="0.7" stroke-linecap="butt"/>
<line x1="138.50" y1="603.10" x2="138.50" y2="636.30" stroke="#454545" stroke-width="0.9" stroke-linecap="butt"/>
<line x1="137.20" y1="603.10" x2="139.80" y2="603.10" stroke="#454545" stroke-width="0.8" stroke-linecap="butt"/>
<line x1="137.46" y1="636.30" x2="139.54" y2="636.30" stroke="#454545" stroke-width="0.7" stroke-linecap="butt"/>
<line x1="151.50" y1="640.10" x2="151.50" y2="646.00" stroke="#454545" stroke-width="0.9" stroke-linecap="butt"/>
<line x1="150.20" y1="640.10" x2="152.80" y2="640.10" stroke="#454545" stroke-width="0.8" stroke-linecap="butt"/>
<line x1="150.46" y1="646.00" x2="152.54" y2="646.00" stroke="#454545" stroke-width="0.7" stroke-linecap="butt"/>
<circle cx="52.20" cy="650.80" r="1.25" fill="#999999" stroke="#2c2c2c" stroke-width="0.9"/>
<circle cx="52.20" cy="654.80" r="1.25" fill="#999999" stroke="#2c2c2c" stroke-width="0.9"/>
<circle cx="65.20" cy="653.40" r="1.25" fill="#999999" stroke="#2c2c2c" stroke-width="0.9"/>
<circle cx="78.00" cy="653.40" r="1.25" fill="#999999" stroke="#2c2c2c" stroke-width="0.9"/>
<circle cx="90.90" cy="652.60" r="1.25" fill="#999999" stroke="#2c2c2c" stroke-width="0.9"/>
<circle cx="112.30" cy="652.40" r="1.25" fill="#999999" stroke="#2c2c2c" stroke-width="0.9"/>
<circle cx="125.10" cy="605.40" r="1.25" fill="#999999" stroke="#2c2c2c" stroke-width="0.9"/>
<circle cx="125.10" cy="635.40" r="1.25" fill="#999999" stroke="#2c2c2c" stroke-width="0.9"/>
<circle cx="125.10" cy="641.00" r="1.25" fill="#999999" stroke="#2c2c2c" stroke-width="0.9"/>
<circle cx="138.30" cy="593.20" r="1.25" fill="#999999" stroke="#2c2c2c" stroke-width="0.9"/>
<circle cx="138.30" cy="618.30" r="1.25" fill="#999999" stroke="#2c2c2c" stroke-width="0.9"/>
<circle cx="138.30" cy="649.00" r="1.25" fill="#999999" stroke="#2c2c2c" stroke-width="0.9"/>
<circle cx="151.20" cy="637.10" r="1.25" fill="#999999" stroke="#2c2c2c" stroke-width="0.9"/>
<circle cx="151.20" cy="645.20" r="1.25" fill="#999999" stroke="#2c2c2c" stroke-width="0.9"/>
<circle cx="151.20" cy="648.10" r="1.25" fill="#999999" stroke="#2c2c2c" stroke-width="0.9"/>
<circle cx="174.00" cy="652.20" r="1.25" fill="#999999" stroke="#2c2c2c" stroke-width="0.9"/>
<circle cx="174.00" cy="654.60" r="1.25" fill="#999999" stroke="#2c2c2c" stroke-width="0.9"/>
<circle cx="185.90" cy="649.60" r="1.25" fill="#999999" stroke="#2c2c2c" stroke-width="0.9"/>
<circle cx="185.90" cy="653.60" r="1.25" fill="#999999" stroke="#2c2c2c" stroke-width="0.9"/>
<circle cx="199.60" cy="655.00" r="1.25" fill="#999999" stroke="#2c2c2c" stroke-width="0.9"/>
<circle cx="212.90" cy="652.20" r="1.25" fill="#999999" stroke="#2c2c2c" stroke-width="0.9"/>
<circle cx="212.90" cy="654.80" r="1.25" fill="#999999" stroke="#2c2c2c" stroke-width="0.9"/>
<text transform="translate(8.20 619.40) rotate(-90) scale(1 0.955)" font-size="10.00" text-anchor="middle" fill="#1e1e1e" >norm to <tspan font-style="italic">actb</tspan></text>
<text transform="translate(19.60 619.40) rotate(-90) scale(1 0.955)" font-size="10.00" text-anchor="middle" fill="#1e1e1e" >(rel to t=0)</text>
<line x1="249.70" y1="581.00" x2="249.70" y2="657.15" stroke="#1e1e1e" stroke-width="1.6" stroke-linecap="butt"/>
<line x1="248.90" y1="656.40" x2="432.20" y2="656.40" stroke="#1e1e1e" stroke-width="1.5" stroke-linecap="butt"/>
<line x1="246.40" y1="582.00" x2="249.70" y2="582.00" stroke="#1e1e1e" stroke-width="1.1" stroke-linecap="butt"/>
<text transform="translate(243.80 586.20) scale(0.955 1)" font-size="10.47" text-anchor="end" fill="#1e1e1e" >40</text>
<line x1="246.40" y1="600.50" x2="249.70" y2="600.50" stroke="#1e1e1e" stroke-width="1.1" stroke-linecap="butt"/>
<text transform="translate(243.80 604.70) scale(0.955 1)" font-size="10.47" text-anchor="end" fill="#1e1e1e" >30</text>
<line x1="246.40" y1="619.10" x2="249.70" y2="619.10" stroke="#1e1e1e" stroke-width="1.1" stroke-linecap="butt"/>
<text transform="translate(243.80 623.30) scale(0.955 1)" font-size="10.47" text-anchor="end" fill="#1e1e1e" >20</text>
<line x1="246.40" y1="637.80" x2="249.70" y2="637.80" stroke="#1e1e1e" stroke-width="1.1" stroke-linecap="butt"/>
<text transform="translate(243.80 642.00) scale(0.955 1)" font-size="10.47" text-anchor="end" fill="#1e1e1e" >10</text>
<line x1="246.40" y1="656.40" x2="249.70" y2="656.40" stroke="#1e1e1e" stroke-width="1.1" stroke-linecap="butt"/>
<text transform="translate(242.20 660.90) scale(0.955 1)" font-size="10.47" text-anchor="end" fill="#1e1e1e" >0</text>
<text transform="translate(269.60 591.30) scale(0.955 1)" font-size="10.47" text-anchor="start" fill="#1e1e1e" font-style="italic" >Oas1a</text>
<line x1="310.40" y1="656.40" x2="310.40" y2="658.70" stroke="#1e1e1e" stroke-width="1.0" stroke-linecap="butt"/>
<line x1="373.50" y1="656.40" x2="373.50" y2="658.70" stroke="#1e1e1e" stroke-width="1.0" stroke-linecap="butt"/>
<text transform="translate(259.20 668.30) scale(0.955 1)" font-size="10.47" text-anchor="middle" fill="#1e1e1e" >0</text>
<text transform="translate(272.10 668.30) scale(0.955 1)" font-size="10.47" text-anchor="middle" fill="#1e1e1e" >8</text>
<text transform="translate(285.20 668.30) scale(0.955 1)" font-size="10.47" text-anchor="middle" fill="#1e1e1e" >24</text>
<text transform="translate(299.00 668.30) scale(0.955 1)" font-size="10.47" text-anchor="middle" fill="#1e1e1e" >48</text>
<text transform="translate(320.80 668.30) scale(0.955 1)" font-size="10.47" text-anchor="middle" fill="#1e1e1e" >0</text>
<text transform="translate(333.20 668.30) scale(0.955 1)" font-size="10.47" text-anchor="middle" fill="#1e1e1e" >8</text>
<text transform="translate(346.50 668.30) scale(0.955 1)" font-size="10.47" text-anchor="middle" fill="#1e1e1e" >24</text>
<text transform="translate(360.20 668.30) scale(0.955 1)" font-size="10.47" text-anchor="middle" fill="#1e1e1e" >48</text>
<text transform="translate(382.80 668.30) scale(0.955 1)" font-size="10.47" text-anchor="middle" fill="#1e1e1e" >0</text>
<text transform="translate(394.40 668.30) scale(0.955 1)" font-size="10.47" text-anchor="middle" fill="#1e1e1e" >8</text>
<text transform="translate(406.70 668.30) scale(0.955 1)" font-size="10.47" text-anchor="middle" fill="#1e1e1e" >24</text>
<text transform="translate(420.00 668.30) scale(0.955 1)" font-size="10.47" text-anchor="middle" fill="#1e1e1e" >48</text>
<text transform="translate(278.10 679.70) scale(0.955 1)" font-size="10.47" text-anchor="middle" fill="#1e1e1e" >ESC</text>
<text transform="translate(341.00 681.20) scale(0.955 1)" font-size="10.47" text-anchor="middle" fill="#1e1e1e" >MDA5</text>
<text transform="translate(404.30 680.80) scale(0.955 1)" font-size="10.47" text-anchor="middle" fill="#1e1e1e" >MDA5<tspan font-size="9.74">Δ</tspan>CTD</text>
<rect x="256.30" y="655.05" width="6.40" height="1.35" fill="#ffffff" stroke="#1e1e1e" stroke-width="1.15" rx="0" />
<rect x="269.30" y="655.55" width="6.40" height="0.85" fill="#ffffff" stroke="#1e1e1e" stroke-width="1.15" rx="0" />
<rect x="282.30" y="655.85" width="6.40" height="0.55" fill="#ffffff" stroke="#1e1e1e" stroke-width="1.15" rx="0" />
<rect x="295.30" y="655.25" width="6.40" height="1.15" fill="#ffffff" stroke="#1e1e1e" stroke-width="1.15" rx="0" />
<rect x="317.70" y="654.65" width="6.40" height="1.75" fill="#10648e" stroke="#1e1e1e" stroke-width="1.15" rx="0" />
<rect x="329.70" y="636.45" width="6.40" height="19.95" fill="#10648e" stroke="#1e1e1e" stroke-width="1.15" rx="0" />
<rect x="342.50" y="618.55" width="6.40" height="37.85" fill="#10648e" stroke="#1e1e1e" stroke-width="1.15" rx="0" />
<rect x="356.70" y="643.65" width="6.40" height="12.75" fill="#10648e" stroke="#1e1e1e" stroke-width="1.15" rx="0" />
<rect x="378.80" y="654.65" width="6.40" height="1.75" fill="#e6b02a" stroke="#1e1e1e" stroke-width="1.15" rx="0" />
<rect x="390.60" y="653.65" width="6.40" height="2.75" fill="#e6b02a" stroke="#1e1e1e" stroke-width="1.15" rx="0" />
<rect x="403.20" y="656.15" width="6.40" height="0.25" fill="#e6b02a" stroke="#1e1e1e" stroke-width="1.15" rx="0" />
<rect x="416.30" y="654.65" width="6.40" height="1.75" fill="#e6b02a" stroke="#1e1e1e" stroke-width="1.15" rx="0" />
<line x1="345.50" y1="601.30" x2="345.50" y2="635.50" stroke="#454545" stroke-width="0.9" stroke-linecap="butt"/>
<line x1="344.20" y1="601.30" x2="346.80" y2="601.30" stroke="#454545" stroke-width="0.8" stroke-linecap="butt"/>
<line x1="344.46" y1="635.50" x2="346.54" y2="635.50" stroke="#454545" stroke-width="0.7" stroke-linecap="butt"/>
<line x1="359.50" y1="639.30" x2="359.50" y2="646.50" stroke="#454545" stroke-width="0.9" stroke-linecap="butt"/>
<line x1="358.20" y1="639.30" x2="360.80" y2="639.30" stroke="#454545" stroke-width="0.8" stroke-linecap="butt"/>
<line x1="358.46" y1="646.50" x2="360.54" y2="646.50" stroke="#454545" stroke-width="0.7" stroke-linecap="butt"/>
<line x1="332.50" y1="634.30" x2="332.50" y2="637.60" stroke="#454545" stroke-width="0.9" stroke-linecap="butt"/>
<line x1="331.20" y1="634.30" x2="333.80" y2="634.30" stroke="#454545" stroke-width="0.8" stroke-linecap="butt"/>
<line x1="331.46" y1="637.60" x2="333.54" y2="637.60" stroke="#454545" stroke-width="0.7" stroke-linecap="butt"/>
<circle cx="259.50" cy="652.80" r="1.25" fill="#999999" stroke="#2c2c2c" stroke-width="0.9"/>
<circle cx="272.50" cy="654.60" r="1.25" fill="#999999" stroke="#2c2c2c" stroke-width="0.9"/>
<circle cx="285.50" cy="655.00" r="1.25" fill="#999999" stroke="#2c2c2c" stroke-width="0.9"/>
<circle cx="298.50" cy="653.20" r="1.25" fill="#999999" stroke="#2c2c2c" stroke-width="0.9"/>
<circle cx="320.90" cy="652.80" r="1.25" fill="#999999" stroke="#2c2c2c" stroke-width="0.9"/>
<circle cx="332.90" cy="634.50" r="1.25" fill="#999999" stroke="#2c2c2c" stroke-width="0.9"/>
<circle cx="332.90" cy="636.40" r="1.25" fill="#999999" stroke="#2c2c2c" stroke-width="0.9"/>
<circle cx="332.90" cy="638.30" r="1.25" fill="#999999" stroke="#2c2c2c" stroke-width="0.9"/>
<circle cx="345.70" cy="589.90" r="1.25" fill="#999999" stroke="#2c2c2c" stroke-width="0.9"/>
<circle cx="345.70" cy="616.10" r="1.25" fill="#999999" stroke="#2c2c2c" stroke-width="0.9"/>
<circle cx="345.70" cy="648.40" r="1.25" fill="#999999" stroke="#2c2c2c" stroke-width="0.9"/>
<circle cx="359.90" cy="636.40" r="1.25" fill="#999999" stroke="#2c2c2c" stroke-width="0.9"/>
<circle cx="359.90" cy="645.00" r="1.25" fill="#999999" stroke="#2c2c2c" stroke-width="0.9"/>
<circle cx="359.90" cy="647.80" r="1.25" fill="#999999" stroke="#2c2c2c" stroke-width="0.9"/>
<circle cx="382.00" cy="652.20" r="1.25" fill="#999999" stroke="#2c2c2c" stroke-width="0.9"/>
<circle cx="382.00" cy="654.90" r="1.25" fill="#999999" stroke="#2c2c2c" stroke-width="0.9"/>
<circle cx="393.80" cy="651.00" r="1.25" fill="#999999" stroke="#2c2c2c" stroke-width="0.9"/>
<circle cx="393.80" cy="654.60" r="1.25" fill="#999999" stroke="#2c2c2c" stroke-width="0.9"/>
<circle cx="406.40" cy="655.30" r="1.25" fill="#999999" stroke="#2c2c2c" stroke-width="0.9"/>
<circle cx="419.50" cy="652.00" r="1.25" fill="#999999" stroke="#2c2c2c" stroke-width="0.9"/>
<circle cx="419.50" cy="654.90" r="1.25" fill="#999999" stroke="#2c2c2c" stroke-width="0.9"/>
<line x1="322.20" y1="584.80" x2="342.10" y2="584.80" stroke="#262626" stroke-width="1.6" stroke-linecap="butt"/>
<text transform="translate(332.35 583.70) scale(0.955 1)" font-size="10.47" text-anchor="middle" fill="#1a1a1a" stroke="#1a1a1a" stroke-width="0.2">*</text>
<line x1="457.30" y1="580.40" x2="457.30" y2="657.65" stroke="#1e1e1e" stroke-width="1.6" stroke-linecap="butt"/>
<line x1="456.50" y1="656.90" x2="638.90" y2="656.90" stroke="#1e1e1e" stroke-width="1.5" stroke-linecap="butt"/>
<line x1="454.00" y1="581.40" x2="457.30" y2="581.40" stroke="#1e1e1e" stroke-width="1.1" stroke-linecap="butt"/>
<text transform="translate(451.40 585.60) scale(0.955 1)" font-size="10.47" text-anchor="end" fill="#1e1e1e" >16</text>
<line x1="454.00" y1="600.10" x2="457.30" y2="600.10" stroke="#1e1e1e" stroke-width="1.1" stroke-linecap="butt"/>
<text transform="translate(451.40 604.30) scale(0.955 1)" font-size="10.47" text-anchor="end" fill="#1e1e1e" >12</text>
<line x1="454.00" y1="619.20" x2="457.30" y2="619.20" stroke="#1e1e1e" stroke-width="1.1" stroke-linecap="butt"/>
<text transform="translate(451.40 623.40) scale(0.955 1)" font-size="10.47" text-anchor="end" fill="#1e1e1e" >8</text>
<line x1="454.00" y1="638.00" x2="457.30" y2="638.00" stroke="#1e1e1e" stroke-width="1.1" stroke-linecap="butt"/>
<text transform="translate(451.40 642.20) scale(0.955 1)" font-size="10.47" text-anchor="end" fill="#1e1e1e" >4</text>
<line x1="454.00" y1="656.90" x2="457.30" y2="656.90" stroke="#1e1e1e" stroke-width="1.1" stroke-linecap="butt"/>
<text transform="translate(449.80 661.40) scale(0.955 1)" font-size="10.47" text-anchor="end" fill="#1e1e1e" >0</text>
<text transform="translate(478.80 590.60) scale(0.955 1)" font-size="10.47" text-anchor="start" fill="#1e1e1e" font-style="italic" >Ifih1</text>
<line x1="519.40" y1="656.90" x2="519.40" y2="659.20" stroke="#1e1e1e" stroke-width="1.0" stroke-linecap="butt"/>
<line x1="581.60" y1="656.90" x2="581.60" y2="659.20" stroke="#1e1e1e" stroke-width="1.0" stroke-linecap="butt"/>
<text transform="translate(467.80 668.30) scale(0.955 1)" font-size="10.47" text-anchor="middle" fill="#1e1e1e" >0</text>
<text transform="translate(480.70 668.30) scale(0.955 1)" font-size="10.47" text-anchor="middle" fill="#1e1e1e" >8</text>
<text transform="translate(493.80 668.30) scale(0.955 1)" font-size="10.47" text-anchor="middle" fill="#1e1e1e" >24</text>
<text transform="translate(507.60 668.30) scale(0.955 1)" font-size="10.47" text-anchor="middle" fill="#1e1e1e" >48</text>
<text transform="translate(530.40 668.30) scale(0.955 1)" font-size="10.47" text-anchor="middle" fill="#1e1e1e" >0</text>
<text transform="translate(542.70 668.30) scale(0.955 1)" font-size="10.47" text-anchor="middle" fill="#1e1e1e" >8</text>
<text transform="translate(555.60 668.30) scale(0.955 1)" font-size="10.47" text-anchor="middle" fill="#1e1e1e" >24</text>
<text transform="translate(568.90 668.30) scale(0.955 1)" font-size="10.47" text-anchor="middle" fill="#1e1e1e" >48</text>
<text transform="translate(593.50 668.30) scale(0.955 1)" font-size="10.47" text-anchor="middle" fill="#1e1e1e" >0</text>
<text transform="translate(606.20 668.30) scale(0.955 1)" font-size="10.47" text-anchor="middle" fill="#1e1e1e" >8</text>
<text transform="translate(618.60 668.30) scale(0.955 1)" font-size="10.47" text-anchor="middle" fill="#1e1e1e" >24</text>
<text transform="translate(632.80 668.30) scale(0.955 1)" font-size="10.47" text-anchor="middle" fill="#1e1e1e" >48</text>
<text transform="translate(486.80 679.70) scale(0.955 1)" font-size="10.47" text-anchor="middle" fill="#1e1e1e" >ESC</text>
<text transform="translate(550.00 681.40) scale(0.955 1)" font-size="10.47" text-anchor="middle" fill="#1e1e1e" >MDA5</text>
<text transform="translate(614.50 681.00) scale(0.955 1)" font-size="10.47" text-anchor="middle" fill="#1e1e1e" >MDA5<tspan font-size="9.74">Δ</tspan>CTD</text>
<text transform="translate(487.00 655.00) scale(0.955 1)" font-size="10.47" text-anchor="middle" fill="#1e1e1e" >n.d</text>
<rect x="525.10" y="652.75" width="6.40" height="4.15" fill="#10648e" stroke="#1e1e1e" stroke-width="1.15" rx="0" />
<rect x="538.30" y="632.85" width="6.40" height="24.05" fill="#10648e" stroke="#1e1e1e" stroke-width="1.15" rx="0" />
<rect x="551.40" y="650.65" width="6.40" height="6.25" fill="#10648e" stroke="#1e1e1e" stroke-width="1.15" rx="0" />
<rect x="564.40" y="655.95" width="6.40" height="0.95" fill="#10648e" stroke="#1e1e1e" stroke-width="1.15" rx="0" />
<rect x="587.10" y="652.55" width="6.40" height="4.35" fill="#e6b02a" stroke="#1e1e1e" stroke-width="1.15" rx="0" />
<rect x="600.40" y="609.05" width="6.40" height="47.85" fill="#e6b02a" stroke="#1e1e1e" stroke-width="1.15" rx="0" />
<rect x="613.30" y="611.75" width="6.40" height="45.15" fill="#e6b02a" stroke="#1e1e1e" stroke-width="1.15" rx="0" />
<rect x="626.50" y="637.95" width="6.40" height="18.95" fill="#e6b02a" stroke="#1e1e1e" stroke-width="1.15" rx="0" />
<line x1="528.50" y1="649.00" x2="528.50" y2="654.50" stroke="#454545" stroke-width="0.9" stroke-linecap="butt"/>
<line x1="527.20" y1="649.00" x2="529.80" y2="649.00" stroke="#454545" stroke-width="0.8" stroke-linecap="butt"/>
<line x1="527.46" y1="654.50" x2="529.54" y2="654.50" stroke="#454545" stroke-width="0.7" stroke-linecap="butt"/>
<line x1="541.50" y1="627.90" x2="541.50" y2="636.50" stroke="#454545" stroke-width="0.9" stroke-linecap="butt"/>
<line x1="540.20" y1="627.90" x2="542.80" y2="627.90" stroke="#454545" stroke-width="0.8" stroke-linecap="butt"/>
<line x1="540.46" y1="636.50" x2="542.54" y2="636.50" stroke="#454545" stroke-width="0.7" stroke-linecap="butt"/>
<line x1="554.50" y1="646.50" x2="554.50" y2="653.00" stroke="#454545" stroke-width="0.9" stroke-linecap="butt"/>
<line x1="553.20" y1="646.50" x2="555.80" y2="646.50" stroke="#454545" stroke-width="0.8" stroke-linecap="butt"/>
<line x1="553.46" y1="653.00" x2="555.54" y2="653.00" stroke="#454545" stroke-width="0.7" stroke-linecap="butt"/>
<line x1="590.50" y1="648.20" x2="590.50" y2="654.50" stroke="#454545" stroke-width="0.9" stroke-linecap="butt"/>
<line x1="589.20" y1="648.20" x2="591.80" y2="648.20" stroke="#454545" stroke-width="0.8" stroke-linecap="butt"/>
<line x1="589.46" y1="654.50" x2="591.54" y2="654.50" stroke="#454545" stroke-width="0.7" stroke-linecap="butt"/>
<line x1="603.50" y1="604.20" x2="603.50" y2="614.00" stroke="#454545" stroke-width="0.9" stroke-linecap="butt"/>
<line x1="602.20" y1="604.20" x2="604.80" y2="604.20" stroke="#454545" stroke-width="0.8" stroke-linecap="butt"/>
<line x1="602.46" y1="614.00" x2="604.54" y2="614.00" stroke="#454545" stroke-width="0.7" stroke-linecap="butt"/>
<line x1="616.50" y1="591.40" x2="616.50" y2="631.70" stroke="#454545" stroke-width="0.9" stroke-linecap="butt"/>
<line x1="615.20" y1="591.40" x2="617.80" y2="591.40" stroke="#454545" stroke-width="0.8" stroke-linecap="butt"/>
<line x1="615.46" y1="631.70" x2="617.54" y2="631.70" stroke="#454545" stroke-width="0.7" stroke-linecap="butt"/>
<line x1="629.50" y1="633.60" x2="629.50" y2="641.20" stroke="#454545" stroke-width="0.9" stroke-linecap="butt"/>
<line x1="628.20" y1="633.60" x2="630.80" y2="633.60" stroke="#454545" stroke-width="0.8" stroke-linecap="butt"/>
<line x1="628.46" y1="641.20" x2="630.54" y2="641.20" stroke="#454545" stroke-width="0.7" stroke-linecap="butt"/>
<circle cx="528.30" cy="647.40" r="1.25" fill="#999999" stroke="#2c2c2c" stroke-width="0.9"/>
<circle cx="528.30" cy="654.00" r="1.25" fill="#999999" stroke="#2c2c2c" stroke-width="0.9"/>
<circle cx="541.50" cy="627.90" r="1.25" fill="#999999" stroke="#2c2c2c" stroke-width="0.9"/>
<circle cx="541.50" cy="630.40" r="1.25" fill="#999999" stroke="#2c2c2c" stroke-width="0.9"/>
<circle cx="541.50" cy="638.70" r="1.25" fill="#999999" stroke="#2c2c2c" stroke-width="0.9"/>
<circle cx="554.60" cy="644.60" r="1.25" fill="#999999" stroke="#2c2c2c" stroke-width="0.9"/>
<circle cx="554.60" cy="652.00" r="1.25" fill="#999999" stroke="#2c2c2c" stroke-width="0.9"/>
<circle cx="554.60" cy="654.00" r="1.25" fill="#999999" stroke="#2c2c2c" stroke-width="0.9"/>
<circle cx="567.60" cy="655.00" r="1.25" fill="#999999" stroke="#2c2c2c" stroke-width="0.9"/>
<circle cx="590.30" cy="645.30" r="1.25" fill="#999999" stroke="#2c2c2c" stroke-width="0.9"/>
<circle cx="590.30" cy="654.30" r="1.25" fill="#999999" stroke="#2c2c2c" stroke-width="0.9"/>
<circle cx="603.60" cy="601.30" r="1.25" fill="#999999" stroke="#2c2c2c" stroke-width="0.9"/>
<circle cx="603.60" cy="608.00" r="1.25" fill="#999999" stroke="#2c2c2c" stroke-width="0.9"/>
<circle cx="603.60" cy="616.10" r="1.25" fill="#999999" stroke="#2c2c2c" stroke-width="0.9"/>
<circle cx="616.50" cy="586.10" r="1.25" fill="#999999" stroke="#2c2c2c" stroke-width="0.9"/>
<circle cx="616.50" cy="597.90" r="1.25" fill="#999999" stroke="#2c2c2c" stroke-width="0.9"/>
<circle cx="616.50" cy="650.70" r="1.25" fill="#999999" stroke="#2c2c2c" stroke-width="0.9"/>
<circle cx="629.70" cy="632.30" r="1.25" fill="#999999" stroke="#2c2c2c" stroke-width="0.9"/>
<circle cx="629.70" cy="634.50" r="1.25" fill="#999999" stroke="#2c2c2c" stroke-width="0.9"/>
<circle cx="629.70" cy="644.40" r="1.25" fill="#999999" stroke="#2c2c2c" stroke-width="0.9"/>
<line x1="526.00" y1="620.70" x2="541.80" y2="620.70" stroke="#262626" stroke-width="1.7" stroke-linecap="butt"/>
<text transform="translate(533.50 621.12) scale(0.955 1)" font-size="11.52" text-anchor="middle" fill="#1a1a1a" stroke="#1a1a1a" stroke-width="0.2" letter-spacing="0.5">***</text>
<line x1="586.70" y1="594.70" x2="602.40" y2="594.70" stroke="#262626" stroke-width="1.7" stroke-linecap="butt"/>
<text transform="translate(594.75 593.60) scale(0.955 1)" font-size="10.47" text-anchor="middle" fill="#1a1a1a" stroke="#1a1a1a" stroke-width="0.2">*</text>
</svg>
</body></html>
